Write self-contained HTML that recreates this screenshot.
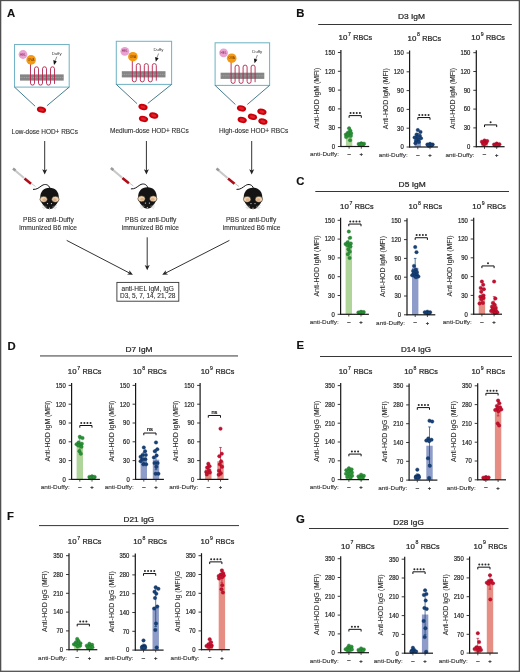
<!DOCTYPE html>
<html><head><meta charset="utf-8"><style>
html,body{margin:0;padding:0;background:#fff;}
svg{display:block;will-change:transform;filter:blur(0.3px);}
text{font-family:"Liberation Sans", sans-serif;}
</style></head><body>
<svg width="520" height="672" viewBox="0 0 520 672" font-family='"Liberation Sans", sans-serif'>
<rect x="0" y="0" width="520" height="672" fill="#fff"/>
<text x="296.30" y="16.70" font-size="11.3" text-anchor="start" fill="#111" font-weight="bold" stroke="#111" stroke-width="0.15">B</text>
<text x="398.00" y="19.20" font-size="8.1" text-anchor="start" fill="#242424" font-weight="normal" stroke="#242424" stroke-width="0.24" textLength="27.0" lengthAdjust="spacingAndGlyphs">D3 IgM</text>
<line x1="318.20" y1="24.50" x2="511.80" y2="24.50" stroke="#363636" stroke-width="1.0"/>
<text x="338.50" y="40.40" font-size="8.0" text-anchor="start" fill="#242424" font-weight="normal" stroke="#242424" stroke-width="0.24" textLength="8.8" lengthAdjust="spacingAndGlyphs">10</text>
<text x="347.90" y="36.30" font-size="6.0" text-anchor="start" fill="#242424" font-weight="normal" stroke="#242424" stroke-width="0.18" textLength="2.9" lengthAdjust="spacingAndGlyphs">7</text>
<text x="353.30" y="40.40" font-size="7.9" text-anchor="start" fill="#242424" font-weight="normal" stroke="#242424" stroke-width="0.24" textLength="18.9" lengthAdjust="spacingAndGlyphs">RBCs</text>
<text x="407.50" y="40.50" font-size="8.0" text-anchor="start" fill="#242424" font-weight="normal" stroke="#242424" stroke-width="0.24" textLength="8.8" lengthAdjust="spacingAndGlyphs">10</text>
<text x="416.90" y="36.40" font-size="6.0" text-anchor="start" fill="#242424" font-weight="normal" stroke="#242424" stroke-width="0.18" textLength="2.9" lengthAdjust="spacingAndGlyphs">8</text>
<text x="422.30" y="40.50" font-size="7.9" text-anchor="start" fill="#242424" font-weight="normal" stroke="#242424" stroke-width="0.24" textLength="18.9" lengthAdjust="spacingAndGlyphs">RBCs</text>
<text x="471.30" y="40.40" font-size="8.0" text-anchor="start" fill="#242424" font-weight="normal" stroke="#242424" stroke-width="0.24" textLength="8.8" lengthAdjust="spacingAndGlyphs">10</text>
<text x="480.70" y="36.30" font-size="6.0" text-anchor="start" fill="#242424" font-weight="normal" stroke="#242424" stroke-width="0.18" textLength="2.9" lengthAdjust="spacingAndGlyphs">9</text>
<text x="486.10" y="40.40" font-size="7.9" text-anchor="start" fill="#242424" font-weight="normal" stroke="#242424" stroke-width="0.24" textLength="18.9" lengthAdjust="spacingAndGlyphs">RBCs</text>
<rect x="345.90" y="133.97" width="6.4" height="12.53" fill="#afd59b"/>
<rect x="358.10" y="144.18" width="6.4" height="2.32" fill="#afd59b"/>
<line x1="349.10" y1="130.83" x2="349.10" y2="137.10" stroke="#2a9236" stroke-width="0.7"/>
<line x1="347.80" y1="130.83" x2="350.40" y2="130.83" stroke="#2a9236" stroke-width="0.7"/>
<line x1="347.80" y1="137.10" x2="350.40" y2="137.10" stroke="#2a9236" stroke-width="0.7"/>
<line x1="361.30" y1="143.55" x2="361.30" y2="144.81" stroke="#2a9236" stroke-width="0.7"/>
<line x1="360.00" y1="143.55" x2="362.60" y2="143.55" stroke="#2a9236" stroke-width="0.7"/>
<line x1="360.00" y1="144.81" x2="362.60" y2="144.81" stroke="#2a9236" stroke-width="0.7"/>
<circle cx="349.10" cy="128.33" r="1.75" fill="#2a9236" stroke="#1d6e28" stroke-width="0.35"/>
<circle cx="350.40" cy="130.83" r="1.75" fill="#2a9236" stroke="#1d6e28" stroke-width="0.35"/>
<circle cx="347.90" cy="132.71" r="1.75" fill="#2a9236" stroke="#1d6e28" stroke-width="0.35"/>
<circle cx="351.10" cy="133.34" r="1.75" fill="#2a9236" stroke="#1d6e28" stroke-width="0.35"/>
<circle cx="348.40" cy="133.97" r="1.75" fill="#2a9236" stroke="#1d6e28" stroke-width="0.35"/>
<circle cx="345.90" cy="134.59" r="1.75" fill="#2a9236" stroke="#1d6e28" stroke-width="0.35"/>
<circle cx="347.60" cy="135.22" r="1.75" fill="#2a9236" stroke="#1d6e28" stroke-width="0.35"/>
<circle cx="350.80" cy="135.85" r="1.75" fill="#2a9236" stroke="#1d6e28" stroke-width="0.35"/>
<circle cx="346.10" cy="137.10" r="1.75" fill="#2a9236" stroke="#1d6e28" stroke-width="0.35"/>
<circle cx="350.10" cy="140.23" r="1.75" fill="#2a9236" stroke="#1d6e28" stroke-width="0.35"/>
<circle cx="361.30" cy="143.37" r="1.75" fill="#2a9236" stroke="#1d6e28" stroke-width="0.35"/>
<circle cx="364.00" cy="143.68" r="1.75" fill="#2a9236" stroke="#1d6e28" stroke-width="0.35"/>
<circle cx="358.70" cy="143.99" r="1.75" fill="#2a9236" stroke="#1d6e28" stroke-width="0.35"/>
<circle cx="361.90" cy="143.99" r="1.75" fill="#2a9236" stroke="#1d6e28" stroke-width="0.35"/>
<circle cx="360.60" cy="144.31" r="1.75" fill="#2a9236" stroke="#1d6e28" stroke-width="0.35"/>
<circle cx="362.90" cy="144.62" r="1.75" fill="#2a9236" stroke="#1d6e28" stroke-width="0.35"/>
<circle cx="359.80" cy="144.62" r="1.75" fill="#2a9236" stroke="#1d6e28" stroke-width="0.35"/>
<circle cx="361.60" cy="144.93" r="1.75" fill="#2a9236" stroke="#1d6e28" stroke-width="0.35"/>
<line x1="340.90" y1="147.00" x2="340.90" y2="50.00" stroke="#161616" stroke-width="1.2"/>
<line x1="340.40" y1="146.50" x2="369.20" y2="146.50" stroke="#161616" stroke-width="1.2"/>
<line x1="349.10" y1="146.50" x2="349.10" y2="148.70" stroke="#222" stroke-width="0.8"/>
<line x1="361.30" y1="146.50" x2="361.30" y2="148.70" stroke="#222" stroke-width="0.8"/>
<line x1="337.90" y1="146.50" x2="340.90" y2="146.50" stroke="#222" stroke-width="0.9"/>
<text x="335.00" y="148.85" font-size="6.6" text-anchor="end" fill="#262626" font-weight="normal" stroke="#262626" stroke-width="0.2" textLength="3.3" lengthAdjust="spacingAndGlyphs">0</text>
<line x1="337.90" y1="127.70" x2="340.90" y2="127.70" stroke="#222" stroke-width="0.9"/>
<text x="335.00" y="130.05" font-size="6.6" text-anchor="end" fill="#262626" font-weight="normal" stroke="#262626" stroke-width="0.2" textLength="6.6" lengthAdjust="spacingAndGlyphs">30</text>
<line x1="337.90" y1="108.90" x2="340.90" y2="108.90" stroke="#222" stroke-width="0.9"/>
<text x="335.00" y="111.25" font-size="6.6" text-anchor="end" fill="#262626" font-weight="normal" stroke="#262626" stroke-width="0.2" textLength="6.6" lengthAdjust="spacingAndGlyphs">60</text>
<line x1="337.90" y1="90.10" x2="340.90" y2="90.10" stroke="#222" stroke-width="0.9"/>
<text x="335.00" y="92.45" font-size="6.6" text-anchor="end" fill="#262626" font-weight="normal" stroke="#262626" stroke-width="0.2" textLength="6.6" lengthAdjust="spacingAndGlyphs">90</text>
<line x1="337.90" y1="71.30" x2="340.90" y2="71.30" stroke="#222" stroke-width="0.9"/>
<text x="335.00" y="73.65" font-size="6.6" text-anchor="end" fill="#262626" font-weight="normal" stroke="#262626" stroke-width="0.2" textLength="9.9" lengthAdjust="spacingAndGlyphs">120</text>
<line x1="337.90" y1="52.50" x2="340.90" y2="52.50" stroke="#222" stroke-width="0.9"/>
<text x="335.00" y="54.85" font-size="6.6" text-anchor="end" fill="#262626" font-weight="normal" stroke="#262626" stroke-width="0.2" textLength="9.9" lengthAdjust="spacingAndGlyphs">150</text>
<path d="M349.10,117.81V115.61H361.30V117.81" fill="none" stroke="#111" stroke-width="1.0"/>
<circle cx="350.55" cy="113.01" r="1.0" fill="#2a2a2a"/>
<circle cx="353.65" cy="113.01" r="1.0" fill="#2a2a2a"/>
<circle cx="356.75" cy="113.01" r="1.0" fill="#2a2a2a"/>
<circle cx="359.85" cy="113.01" r="1.0" fill="#2a2a2a"/>
<text transform="translate(319.20,98.20) rotate(-90)" x="0" y="0" font-size="7.4" text-anchor="middle" fill="#2e2e2e" stroke="#2e2e2e" stroke-width="0.1" textLength="61" lengthAdjust="spacingAndGlyphs">Anti-HOD IgM (MFI)</text>
<text x="339.00" y="156.30" font-size="6.1" text-anchor="end" fill="#333" font-weight="normal" stroke="#333" stroke-width="0.12" textLength="29.0" lengthAdjust="spacingAndGlyphs">anti-Duffy:</text>
<text x="349.10" y="156.10" font-size="5.9" text-anchor="middle" fill="#242424" font-weight="normal" stroke="#242424" stroke-width="0.24">–</text>
<text x="361.30" y="156.30" font-size="5.9" text-anchor="middle" fill="#242424" font-weight="normal" stroke="#242424" stroke-width="0.24">+</text>
<rect x="414.60" y="137.29" width="6.4" height="9.71" fill="#8d9cc8"/>
<rect x="426.80" y="144.81" width="6.4" height="2.19" fill="#8d9cc8"/>
<line x1="417.80" y1="133.53" x2="417.80" y2="141.05" stroke="#16427a" stroke-width="0.7"/>
<line x1="416.50" y1="133.53" x2="419.10" y2="133.53" stroke="#16427a" stroke-width="0.7"/>
<line x1="416.50" y1="141.05" x2="419.10" y2="141.05" stroke="#16427a" stroke-width="0.7"/>
<line x1="430.00" y1="144.18" x2="430.00" y2="145.43" stroke="#16427a" stroke-width="0.7"/>
<line x1="428.70" y1="144.18" x2="431.30" y2="144.18" stroke="#16427a" stroke-width="0.7"/>
<line x1="428.70" y1="145.43" x2="431.30" y2="145.43" stroke="#16427a" stroke-width="0.7"/>
<circle cx="417.80" cy="130.08" r="1.75" fill="#16427a" stroke="#0d2a50" stroke-width="0.35"/>
<circle cx="420.50" cy="131.96" r="1.75" fill="#16427a" stroke="#0d2a50" stroke-width="0.35"/>
<circle cx="416.60" cy="134.47" r="1.75" fill="#16427a" stroke="#0d2a50" stroke-width="0.35"/>
<circle cx="419.80" cy="135.72" r="1.75" fill="#16427a" stroke="#0d2a50" stroke-width="0.35"/>
<circle cx="417.10" cy="136.97" r="1.75" fill="#16427a" stroke="#0d2a50" stroke-width="0.35"/>
<circle cx="414.60" cy="137.60" r="1.75" fill="#16427a" stroke="#0d2a50" stroke-width="0.35"/>
<circle cx="421.00" cy="138.23" r="1.75" fill="#16427a" stroke="#0d2a50" stroke-width="0.35"/>
<circle cx="418.10" cy="139.48" r="1.75" fill="#16427a" stroke="#0d2a50" stroke-width="0.35"/>
<circle cx="416.00" cy="140.73" r="1.75" fill="#16427a" stroke="#0d2a50" stroke-width="0.35"/>
<circle cx="418.80" cy="141.99" r="1.75" fill="#16427a" stroke="#0d2a50" stroke-width="0.35"/>
<circle cx="415.40" cy="143.24" r="1.75" fill="#16427a" stroke="#0d2a50" stroke-width="0.35"/>
<circle cx="430.00" cy="143.87" r="1.75" fill="#16427a" stroke="#0d2a50" stroke-width="0.35"/>
<circle cx="432.70" cy="144.49" r="1.75" fill="#16427a" stroke="#0d2a50" stroke-width="0.35"/>
<circle cx="427.40" cy="144.49" r="1.75" fill="#16427a" stroke="#0d2a50" stroke-width="0.35"/>
<circle cx="430.60" cy="145.12" r="1.75" fill="#16427a" stroke="#0d2a50" stroke-width="0.35"/>
<circle cx="429.30" cy="145.12" r="1.75" fill="#16427a" stroke="#0d2a50" stroke-width="0.35"/>
<circle cx="431.60" cy="145.43" r="1.75" fill="#16427a" stroke="#0d2a50" stroke-width="0.35"/>
<circle cx="428.50" cy="145.75" r="1.75" fill="#16427a" stroke="#0d2a50" stroke-width="0.35"/>
<line x1="409.60" y1="147.50" x2="409.60" y2="50.50" stroke="#161616" stroke-width="1.2"/>
<line x1="409.10" y1="147.00" x2="437.90" y2="147.00" stroke="#161616" stroke-width="1.2"/>
<line x1="417.80" y1="147.00" x2="417.80" y2="149.20" stroke="#222" stroke-width="0.8"/>
<line x1="430.00" y1="147.00" x2="430.00" y2="149.20" stroke="#222" stroke-width="0.8"/>
<line x1="406.60" y1="147.00" x2="409.60" y2="147.00" stroke="#222" stroke-width="0.9"/>
<text x="403.70" y="149.35" font-size="6.6" text-anchor="end" fill="#262626" font-weight="normal" stroke="#262626" stroke-width="0.2" textLength="3.3" lengthAdjust="spacingAndGlyphs">0</text>
<line x1="406.60" y1="128.20" x2="409.60" y2="128.20" stroke="#222" stroke-width="0.9"/>
<text x="403.70" y="130.55" font-size="6.6" text-anchor="end" fill="#262626" font-weight="normal" stroke="#262626" stroke-width="0.2" textLength="6.6" lengthAdjust="spacingAndGlyphs">30</text>
<line x1="406.60" y1="109.40" x2="409.60" y2="109.40" stroke="#222" stroke-width="0.9"/>
<text x="403.70" y="111.75" font-size="6.6" text-anchor="end" fill="#262626" font-weight="normal" stroke="#262626" stroke-width="0.2" textLength="6.6" lengthAdjust="spacingAndGlyphs">60</text>
<line x1="406.60" y1="90.60" x2="409.60" y2="90.60" stroke="#222" stroke-width="0.9"/>
<text x="403.70" y="92.95" font-size="6.6" text-anchor="end" fill="#262626" font-weight="normal" stroke="#262626" stroke-width="0.2" textLength="6.6" lengthAdjust="spacingAndGlyphs">90</text>
<line x1="406.60" y1="71.80" x2="409.60" y2="71.80" stroke="#222" stroke-width="0.9"/>
<text x="403.70" y="74.15" font-size="6.6" text-anchor="end" fill="#262626" font-weight="normal" stroke="#262626" stroke-width="0.2" textLength="9.9" lengthAdjust="spacingAndGlyphs">120</text>
<line x1="406.60" y1="53.00" x2="409.60" y2="53.00" stroke="#222" stroke-width="0.9"/>
<text x="403.70" y="55.35" font-size="6.6" text-anchor="end" fill="#262626" font-weight="normal" stroke="#262626" stroke-width="0.2" textLength="9.9" lengthAdjust="spacingAndGlyphs">150</text>
<path d="M417.80,119.75V117.55H430.00V119.75" fill="none" stroke="#111" stroke-width="1.0"/>
<circle cx="419.25" cy="114.95" r="1.0" fill="#2a2a2a"/>
<circle cx="422.35" cy="114.95" r="1.0" fill="#2a2a2a"/>
<circle cx="425.45" cy="114.95" r="1.0" fill="#2a2a2a"/>
<circle cx="428.55" cy="114.95" r="1.0" fill="#2a2a2a"/>
<text transform="translate(387.90,98.70) rotate(-90)" x="0" y="0" font-size="7.4" text-anchor="middle" fill="#2e2e2e" stroke="#2e2e2e" stroke-width="0.1" textLength="61" lengthAdjust="spacingAndGlyphs">Anti-HOD IgM (MFI)</text>
<text x="407.70" y="156.80" font-size="6.1" text-anchor="end" fill="#333" font-weight="normal" stroke="#333" stroke-width="0.12" textLength="29.0" lengthAdjust="spacingAndGlyphs">anti-Duffy:</text>
<text x="417.80" y="156.60" font-size="5.9" text-anchor="middle" fill="#242424" font-weight="normal" stroke="#242424" stroke-width="0.24">–</text>
<text x="430.00" y="156.80" font-size="5.9" text-anchor="middle" fill="#242424" font-weight="normal" stroke="#242424" stroke-width="0.24">+</text>
<rect x="481.30" y="142.31" width="6.4" height="4.39" fill="#e68e84"/>
<rect x="493.50" y="144.69" width="6.4" height="2.01" fill="#e68e84"/>
<line x1="484.50" y1="141.06" x2="484.50" y2="143.57" stroke="#c70f2e" stroke-width="0.7"/>
<line x1="483.20" y1="141.06" x2="485.80" y2="141.06" stroke="#c70f2e" stroke-width="0.7"/>
<line x1="483.20" y1="143.57" x2="485.80" y2="143.57" stroke="#c70f2e" stroke-width="0.7"/>
<line x1="496.70" y1="144.07" x2="496.70" y2="145.32" stroke="#c70f2e" stroke-width="0.7"/>
<line x1="495.40" y1="144.07" x2="498.00" y2="144.07" stroke="#c70f2e" stroke-width="0.7"/>
<line x1="495.40" y1="145.32" x2="498.00" y2="145.32" stroke="#c70f2e" stroke-width="0.7"/>
<circle cx="484.50" cy="140.43" r="1.75" fill="#c70f2e" stroke="#9a0a22" stroke-width="0.35"/>
<circle cx="487.20" cy="141.06" r="1.75" fill="#c70f2e" stroke="#9a0a22" stroke-width="0.35"/>
<circle cx="481.90" cy="141.69" r="1.75" fill="#c70f2e" stroke="#9a0a22" stroke-width="0.35"/>
<circle cx="485.10" cy="142.31" r="1.75" fill="#c70f2e" stroke="#9a0a22" stroke-width="0.35"/>
<circle cx="483.80" cy="142.31" r="1.75" fill="#c70f2e" stroke="#9a0a22" stroke-width="0.35"/>
<circle cx="486.10" cy="142.94" r="1.75" fill="#c70f2e" stroke="#9a0a22" stroke-width="0.35"/>
<circle cx="483.00" cy="143.57" r="1.75" fill="#c70f2e" stroke="#9a0a22" stroke-width="0.35"/>
<circle cx="484.80" cy="143.57" r="1.75" fill="#c70f2e" stroke="#9a0a22" stroke-width="0.35"/>
<circle cx="484.10" cy="144.19" r="1.75" fill="#c70f2e" stroke="#9a0a22" stroke-width="0.35"/>
<circle cx="496.70" cy="143.57" r="1.75" fill="#c70f2e" stroke="#9a0a22" stroke-width="0.35"/>
<circle cx="499.40" cy="144.19" r="1.75" fill="#c70f2e" stroke="#9a0a22" stroke-width="0.35"/>
<circle cx="494.10" cy="144.51" r="1.75" fill="#c70f2e" stroke="#9a0a22" stroke-width="0.35"/>
<circle cx="497.30" cy="144.82" r="1.75" fill="#c70f2e" stroke="#9a0a22" stroke-width="0.35"/>
<circle cx="496.00" cy="144.82" r="1.75" fill="#c70f2e" stroke="#9a0a22" stroke-width="0.35"/>
<circle cx="498.30" cy="145.13" r="1.75" fill="#c70f2e" stroke="#9a0a22" stroke-width="0.35"/>
<circle cx="495.20" cy="145.45" r="1.75" fill="#c70f2e" stroke="#9a0a22" stroke-width="0.35"/>
<circle cx="497.00" cy="145.45" r="1.75" fill="#c70f2e" stroke="#9a0a22" stroke-width="0.35"/>
<line x1="476.30" y1="147.20" x2="476.30" y2="50.20" stroke="#161616" stroke-width="1.2"/>
<line x1="475.80" y1="146.70" x2="504.60" y2="146.70" stroke="#161616" stroke-width="1.2"/>
<line x1="484.50" y1="146.70" x2="484.50" y2="148.90" stroke="#222" stroke-width="0.8"/>
<line x1="496.70" y1="146.70" x2="496.70" y2="148.90" stroke="#222" stroke-width="0.8"/>
<line x1="473.30" y1="146.70" x2="476.30" y2="146.70" stroke="#222" stroke-width="0.9"/>
<text x="470.40" y="149.05" font-size="6.6" text-anchor="end" fill="#262626" font-weight="normal" stroke="#262626" stroke-width="0.2" textLength="3.3" lengthAdjust="spacingAndGlyphs">0</text>
<line x1="473.30" y1="127.90" x2="476.30" y2="127.90" stroke="#222" stroke-width="0.9"/>
<text x="470.40" y="130.25" font-size="6.6" text-anchor="end" fill="#262626" font-weight="normal" stroke="#262626" stroke-width="0.2" textLength="6.6" lengthAdjust="spacingAndGlyphs">30</text>
<line x1="473.30" y1="109.10" x2="476.30" y2="109.10" stroke="#222" stroke-width="0.9"/>
<text x="470.40" y="111.45" font-size="6.6" text-anchor="end" fill="#262626" font-weight="normal" stroke="#262626" stroke-width="0.2" textLength="6.6" lengthAdjust="spacingAndGlyphs">60</text>
<line x1="473.30" y1="90.30" x2="476.30" y2="90.30" stroke="#222" stroke-width="0.9"/>
<text x="470.40" y="92.65" font-size="6.6" text-anchor="end" fill="#262626" font-weight="normal" stroke="#262626" stroke-width="0.2" textLength="6.6" lengthAdjust="spacingAndGlyphs">90</text>
<line x1="473.30" y1="71.50" x2="476.30" y2="71.50" stroke="#222" stroke-width="0.9"/>
<text x="470.40" y="73.85" font-size="6.6" text-anchor="end" fill="#262626" font-weight="normal" stroke="#262626" stroke-width="0.2" textLength="9.9" lengthAdjust="spacingAndGlyphs">120</text>
<line x1="473.30" y1="52.70" x2="476.30" y2="52.70" stroke="#222" stroke-width="0.9"/>
<text x="470.40" y="55.05" font-size="6.6" text-anchor="end" fill="#262626" font-weight="normal" stroke="#262626" stroke-width="0.2" textLength="9.9" lengthAdjust="spacingAndGlyphs">150</text>
<path d="M484.50,127.09V124.89H496.70V127.09" fill="none" stroke="#111" stroke-width="1.0"/>
<circle cx="490.60" cy="122.29" r="1.0" fill="#2a2a2a"/>
<text transform="translate(454.60,98.40) rotate(-90)" x="0" y="0" font-size="7.4" text-anchor="middle" fill="#2e2e2e" stroke="#2e2e2e" stroke-width="0.1" textLength="61" lengthAdjust="spacingAndGlyphs">Anti-HOD IgM (MFI)</text>
<text x="474.40" y="156.50" font-size="6.1" text-anchor="end" fill="#333" font-weight="normal" stroke="#333" stroke-width="0.12" textLength="29.0" lengthAdjust="spacingAndGlyphs">anti-Duffy:</text>
<text x="484.50" y="156.30" font-size="5.9" text-anchor="middle" fill="#242424" font-weight="normal" stroke="#242424" stroke-width="0.24">–</text>
<text x="496.70" y="156.50" font-size="5.9" text-anchor="middle" fill="#242424" font-weight="normal" stroke="#242424" stroke-width="0.24">+</text>
<text x="296.20" y="185.00" font-size="11.3" text-anchor="start" fill="#111" font-weight="bold" stroke="#111" stroke-width="0.15">C</text>
<text x="398.60" y="187.10" font-size="8.1" text-anchor="start" fill="#242424" font-weight="normal" stroke="#242424" stroke-width="0.24" textLength="27.1" lengthAdjust="spacingAndGlyphs">D5 IgM</text>
<line x1="315.30" y1="191.50" x2="509.00" y2="191.50" stroke="#363636" stroke-width="1.0"/>
<text x="340.00" y="209.10" font-size="8.0" text-anchor="start" fill="#242424" font-weight="normal" stroke="#242424" stroke-width="0.24" textLength="8.8" lengthAdjust="spacingAndGlyphs">10</text>
<text x="349.40" y="205.00" font-size="6.0" text-anchor="start" fill="#242424" font-weight="normal" stroke="#242424" stroke-width="0.18" textLength="2.9" lengthAdjust="spacingAndGlyphs">7</text>
<text x="354.80" y="209.10" font-size="7.9" text-anchor="start" fill="#242424" font-weight="normal" stroke="#242424" stroke-width="0.24" textLength="18.9" lengthAdjust="spacingAndGlyphs">RBCs</text>
<text x="408.50" y="209.10" font-size="8.0" text-anchor="start" fill="#242424" font-weight="normal" stroke="#242424" stroke-width="0.24" textLength="8.8" lengthAdjust="spacingAndGlyphs">10</text>
<text x="417.90" y="205.00" font-size="6.0" text-anchor="start" fill="#242424" font-weight="normal" stroke="#242424" stroke-width="0.18" textLength="2.9" lengthAdjust="spacingAndGlyphs">8</text>
<text x="423.30" y="209.10" font-size="7.9" text-anchor="start" fill="#242424" font-weight="normal" stroke="#242424" stroke-width="0.24" textLength="18.9" lengthAdjust="spacingAndGlyphs">RBCs</text>
<text x="472.30" y="209.10" font-size="8.0" text-anchor="start" fill="#242424" font-weight="normal" stroke="#242424" stroke-width="0.24" textLength="8.8" lengthAdjust="spacingAndGlyphs">10</text>
<text x="481.70" y="205.00" font-size="6.0" text-anchor="start" fill="#242424" font-weight="normal" stroke="#242424" stroke-width="0.18" textLength="2.9" lengthAdjust="spacingAndGlyphs">9</text>
<text x="487.10" y="209.10" font-size="7.9" text-anchor="start" fill="#242424" font-weight="normal" stroke="#242424" stroke-width="0.24" textLength="18.9" lengthAdjust="spacingAndGlyphs">RBCs</text>
<rect x="345.60" y="244.11" width="6.4" height="70.19" fill="#afd59b"/>
<rect x="357.80" y="312.42" width="6.4" height="1.88" fill="#afd59b"/>
<line x1="348.80" y1="237.85" x2="348.80" y2="250.38" stroke="#2a9236" stroke-width="0.7"/>
<line x1="347.50" y1="237.85" x2="350.10" y2="237.85" stroke="#2a9236" stroke-width="0.7"/>
<line x1="347.50" y1="250.38" x2="350.10" y2="250.38" stroke="#2a9236" stroke-width="0.7"/>
<line x1="361.00" y1="311.79" x2="361.00" y2="313.05" stroke="#2a9236" stroke-width="0.7"/>
<line x1="359.70" y1="311.79" x2="362.30" y2="311.79" stroke="#2a9236" stroke-width="0.7"/>
<line x1="359.70" y1="313.05" x2="362.30" y2="313.05" stroke="#2a9236" stroke-width="0.7"/>
<circle cx="348.80" cy="231.58" r="1.75" fill="#2a9236" stroke="#1d6e28" stroke-width="0.35"/>
<circle cx="350.10" cy="237.85" r="1.75" fill="#2a9236" stroke="#1d6e28" stroke-width="0.35"/>
<circle cx="347.60" cy="242.23" r="1.75" fill="#2a9236" stroke="#1d6e28" stroke-width="0.35"/>
<circle cx="350.80" cy="243.49" r="1.75" fill="#2a9236" stroke="#1d6e28" stroke-width="0.35"/>
<circle cx="345.60" cy="244.11" r="1.75" fill="#2a9236" stroke="#1d6e28" stroke-width="0.35"/>
<circle cx="348.40" cy="244.74" r="1.75" fill="#2a9236" stroke="#1d6e28" stroke-width="0.35"/>
<circle cx="347.30" cy="245.37" r="1.75" fill="#2a9236" stroke="#1d6e28" stroke-width="0.35"/>
<circle cx="350.50" cy="246.62" r="1.75" fill="#2a9236" stroke="#1d6e28" stroke-width="0.35"/>
<circle cx="348.40" cy="249.13" r="1.75" fill="#2a9236" stroke="#1d6e28" stroke-width="0.35"/>
<circle cx="349.80" cy="251.63" r="1.75" fill="#2a9236" stroke="#1d6e28" stroke-width="0.35"/>
<circle cx="347.80" cy="254.14" r="1.75" fill="#2a9236" stroke="#1d6e28" stroke-width="0.35"/>
<circle cx="349.60" cy="257.90" r="1.75" fill="#2a9236" stroke="#1d6e28" stroke-width="0.35"/>
<circle cx="361.00" cy="311.79" r="1.75" fill="#2a9236" stroke="#1d6e28" stroke-width="0.35"/>
<circle cx="363.70" cy="312.11" r="1.75" fill="#2a9236" stroke="#1d6e28" stroke-width="0.35"/>
<circle cx="358.40" cy="312.42" r="1.75" fill="#2a9236" stroke="#1d6e28" stroke-width="0.35"/>
<circle cx="361.60" cy="312.42" r="1.75" fill="#2a9236" stroke="#1d6e28" stroke-width="0.35"/>
<circle cx="360.30" cy="312.73" r="1.75" fill="#2a9236" stroke="#1d6e28" stroke-width="0.35"/>
<circle cx="362.60" cy="313.05" r="1.75" fill="#2a9236" stroke="#1d6e28" stroke-width="0.35"/>
<line x1="340.60" y1="314.80" x2="340.60" y2="217.80" stroke="#161616" stroke-width="1.2"/>
<line x1="340.10" y1="314.30" x2="368.90" y2="314.30" stroke="#161616" stroke-width="1.2"/>
<line x1="348.80" y1="314.30" x2="348.80" y2="316.50" stroke="#222" stroke-width="0.8"/>
<line x1="361.00" y1="314.30" x2="361.00" y2="316.50" stroke="#222" stroke-width="0.8"/>
<line x1="337.60" y1="314.30" x2="340.60" y2="314.30" stroke="#222" stroke-width="0.9"/>
<text x="334.70" y="316.65" font-size="6.6" text-anchor="end" fill="#262626" font-weight="normal" stroke="#262626" stroke-width="0.2" textLength="3.3" lengthAdjust="spacingAndGlyphs">0</text>
<line x1="337.60" y1="295.50" x2="340.60" y2="295.50" stroke="#222" stroke-width="0.9"/>
<text x="334.70" y="297.85" font-size="6.6" text-anchor="end" fill="#262626" font-weight="normal" stroke="#262626" stroke-width="0.2" textLength="6.6" lengthAdjust="spacingAndGlyphs">30</text>
<line x1="337.60" y1="276.70" x2="340.60" y2="276.70" stroke="#222" stroke-width="0.9"/>
<text x="334.70" y="279.05" font-size="6.6" text-anchor="end" fill="#262626" font-weight="normal" stroke="#262626" stroke-width="0.2" textLength="6.6" lengthAdjust="spacingAndGlyphs">60</text>
<line x1="337.60" y1="257.90" x2="340.60" y2="257.90" stroke="#222" stroke-width="0.9"/>
<text x="334.70" y="260.25" font-size="6.6" text-anchor="end" fill="#262626" font-weight="normal" stroke="#262626" stroke-width="0.2" textLength="6.6" lengthAdjust="spacingAndGlyphs">90</text>
<line x1="337.60" y1="239.10" x2="340.60" y2="239.10" stroke="#222" stroke-width="0.9"/>
<text x="334.70" y="241.45" font-size="6.6" text-anchor="end" fill="#262626" font-weight="normal" stroke="#262626" stroke-width="0.2" textLength="9.9" lengthAdjust="spacingAndGlyphs">120</text>
<line x1="337.60" y1="220.30" x2="340.60" y2="220.30" stroke="#222" stroke-width="0.9"/>
<text x="334.70" y="222.65" font-size="6.6" text-anchor="end" fill="#262626" font-weight="normal" stroke="#262626" stroke-width="0.2" textLength="9.9" lengthAdjust="spacingAndGlyphs">150</text>
<path d="M348.80,226.26V224.06H361.00V226.26" fill="none" stroke="#111" stroke-width="1.0"/>
<circle cx="350.25" cy="221.46" r="1.0" fill="#2a2a2a"/>
<circle cx="353.35" cy="221.46" r="1.0" fill="#2a2a2a"/>
<circle cx="356.45" cy="221.46" r="1.0" fill="#2a2a2a"/>
<circle cx="359.55" cy="221.46" r="1.0" fill="#2a2a2a"/>
<text transform="translate(318.90,266.00) rotate(-90)" x="0" y="0" font-size="7.4" text-anchor="middle" fill="#2e2e2e" stroke="#2e2e2e" stroke-width="0.1" textLength="61" lengthAdjust="spacingAndGlyphs">Anti-HOD IgM (MFI)</text>
<text x="338.70" y="324.10" font-size="6.1" text-anchor="end" fill="#333" font-weight="normal" stroke="#333" stroke-width="0.12" textLength="29.0" lengthAdjust="spacingAndGlyphs">anti-Duffy:</text>
<text x="348.80" y="323.90" font-size="5.9" text-anchor="middle" fill="#242424" font-weight="normal" stroke="#242424" stroke-width="0.24">–</text>
<text x="361.00" y="324.10" font-size="5.9" text-anchor="middle" fill="#242424" font-weight="normal" stroke="#242424" stroke-width="0.24">+</text>
<rect x="412.00" y="267.80" width="6.4" height="47.00" fill="#8d9cc8"/>
<rect x="424.20" y="312.61" width="6.4" height="2.19" fill="#8d9cc8"/>
<line x1="415.20" y1="258.40" x2="415.20" y2="277.20" stroke="#16427a" stroke-width="0.7"/>
<line x1="413.90" y1="258.40" x2="416.50" y2="258.40" stroke="#16427a" stroke-width="0.7"/>
<line x1="413.90" y1="277.20" x2="416.50" y2="277.20" stroke="#16427a" stroke-width="0.7"/>
<line x1="427.40" y1="311.98" x2="427.40" y2="313.23" stroke="#16427a" stroke-width="0.7"/>
<line x1="426.10" y1="311.98" x2="428.70" y2="311.98" stroke="#16427a" stroke-width="0.7"/>
<line x1="426.10" y1="313.23" x2="428.70" y2="313.23" stroke="#16427a" stroke-width="0.7"/>
<circle cx="415.20" cy="247.12" r="1.75" fill="#16427a" stroke="#0d2a50" stroke-width="0.35"/>
<circle cx="416.50" cy="252.13" r="1.75" fill="#16427a" stroke="#0d2a50" stroke-width="0.35"/>
<circle cx="414.00" cy="265.92" r="1.75" fill="#16427a" stroke="#0d2a50" stroke-width="0.35"/>
<circle cx="415.80" cy="269.68" r="1.75" fill="#16427a" stroke="#0d2a50" stroke-width="0.35"/>
<circle cx="413.10" cy="270.93" r="1.75" fill="#16427a" stroke="#0d2a50" stroke-width="0.35"/>
<circle cx="416.80" cy="272.19" r="1.75" fill="#16427a" stroke="#0d2a50" stroke-width="0.35"/>
<circle cx="413.70" cy="273.44" r="1.75" fill="#16427a" stroke="#0d2a50" stroke-width="0.35"/>
<circle cx="416.90" cy="274.69" r="1.75" fill="#16427a" stroke="#0d2a50" stroke-width="0.35"/>
<circle cx="412.20" cy="275.32" r="1.75" fill="#16427a" stroke="#0d2a50" stroke-width="0.35"/>
<circle cx="414.80" cy="275.95" r="1.75" fill="#16427a" stroke="#0d2a50" stroke-width="0.35"/>
<circle cx="418.40" cy="276.57" r="1.75" fill="#16427a" stroke="#0d2a50" stroke-width="0.35"/>
<circle cx="416.00" cy="277.20" r="1.75" fill="#16427a" stroke="#0d2a50" stroke-width="0.35"/>
<circle cx="427.40" cy="311.67" r="1.75" fill="#16427a" stroke="#0d2a50" stroke-width="0.35"/>
<circle cx="430.10" cy="312.29" r="1.75" fill="#16427a" stroke="#0d2a50" stroke-width="0.35"/>
<circle cx="424.80" cy="312.29" r="1.75" fill="#16427a" stroke="#0d2a50" stroke-width="0.35"/>
<circle cx="428.00" cy="312.92" r="1.75" fill="#16427a" stroke="#0d2a50" stroke-width="0.35"/>
<circle cx="426.70" cy="312.92" r="1.75" fill="#16427a" stroke="#0d2a50" stroke-width="0.35"/>
<circle cx="429.00" cy="313.23" r="1.75" fill="#16427a" stroke="#0d2a50" stroke-width="0.35"/>
<line x1="407.00" y1="315.30" x2="407.00" y2="218.30" stroke="#161616" stroke-width="1.2"/>
<line x1="406.50" y1="314.80" x2="435.30" y2="314.80" stroke="#161616" stroke-width="1.2"/>
<line x1="415.20" y1="314.80" x2="415.20" y2="317.00" stroke="#222" stroke-width="0.8"/>
<line x1="427.40" y1="314.80" x2="427.40" y2="317.00" stroke="#222" stroke-width="0.8"/>
<line x1="404.00" y1="314.80" x2="407.00" y2="314.80" stroke="#222" stroke-width="0.9"/>
<text x="401.10" y="317.15" font-size="6.6" text-anchor="end" fill="#262626" font-weight="normal" stroke="#262626" stroke-width="0.2" textLength="3.3" lengthAdjust="spacingAndGlyphs">0</text>
<line x1="404.00" y1="296.00" x2="407.00" y2="296.00" stroke="#222" stroke-width="0.9"/>
<text x="401.10" y="298.35" font-size="6.6" text-anchor="end" fill="#262626" font-weight="normal" stroke="#262626" stroke-width="0.2" textLength="6.6" lengthAdjust="spacingAndGlyphs">30</text>
<line x1="404.00" y1="277.20" x2="407.00" y2="277.20" stroke="#222" stroke-width="0.9"/>
<text x="401.10" y="279.55" font-size="6.6" text-anchor="end" fill="#262626" font-weight="normal" stroke="#262626" stroke-width="0.2" textLength="6.6" lengthAdjust="spacingAndGlyphs">60</text>
<line x1="404.00" y1="258.40" x2="407.00" y2="258.40" stroke="#222" stroke-width="0.9"/>
<text x="401.10" y="260.75" font-size="6.6" text-anchor="end" fill="#262626" font-weight="normal" stroke="#262626" stroke-width="0.2" textLength="6.6" lengthAdjust="spacingAndGlyphs">90</text>
<line x1="404.00" y1="239.60" x2="407.00" y2="239.60" stroke="#222" stroke-width="0.9"/>
<text x="401.10" y="241.95" font-size="6.6" text-anchor="end" fill="#262626" font-weight="normal" stroke="#262626" stroke-width="0.2" textLength="9.9" lengthAdjust="spacingAndGlyphs">120</text>
<line x1="404.00" y1="220.80" x2="407.00" y2="220.80" stroke="#222" stroke-width="0.9"/>
<text x="401.10" y="223.15" font-size="6.6" text-anchor="end" fill="#262626" font-weight="normal" stroke="#262626" stroke-width="0.2" textLength="9.9" lengthAdjust="spacingAndGlyphs">150</text>
<path d="M415.20,239.92V237.72H427.40V239.92" fill="none" stroke="#111" stroke-width="1.0"/>
<circle cx="416.65" cy="235.12" r="1.0" fill="#2a2a2a"/>
<circle cx="419.75" cy="235.12" r="1.0" fill="#2a2a2a"/>
<circle cx="422.85" cy="235.12" r="1.0" fill="#2a2a2a"/>
<circle cx="425.95" cy="235.12" r="1.0" fill="#2a2a2a"/>
<text transform="translate(385.30,266.50) rotate(-90)" x="0" y="0" font-size="7.4" text-anchor="middle" fill="#2e2e2e" stroke="#2e2e2e" stroke-width="0.1" textLength="61" lengthAdjust="spacingAndGlyphs">Anti-HOD IgM (MFI)</text>
<text x="405.10" y="324.60" font-size="6.1" text-anchor="end" fill="#333" font-weight="normal" stroke="#333" stroke-width="0.12" textLength="29.0" lengthAdjust="spacingAndGlyphs">anti-Duffy:</text>
<text x="415.20" y="324.40" font-size="5.9" text-anchor="middle" fill="#242424" font-weight="normal" stroke="#242424" stroke-width="0.24">–</text>
<text x="427.40" y="324.60" font-size="5.9" text-anchor="middle" fill="#242424" font-weight="normal" stroke="#242424" stroke-width="0.24">+</text>
<rect x="478.70" y="295.40" width="6.4" height="18.80" fill="#e68e84"/>
<rect x="490.90" y="305.43" width="6.4" height="8.77" fill="#e68e84"/>
<line x1="481.90" y1="288.51" x2="481.90" y2="302.29" stroke="#c70f2e" stroke-width="0.7"/>
<line x1="480.60" y1="288.51" x2="483.20" y2="288.51" stroke="#c70f2e" stroke-width="0.7"/>
<line x1="480.60" y1="302.29" x2="483.20" y2="302.29" stroke="#c70f2e" stroke-width="0.7"/>
<line x1="494.10" y1="296.65" x2="494.10" y2="314.20" stroke="#c70f2e" stroke-width="0.7"/>
<line x1="492.80" y1="296.65" x2="495.40" y2="296.65" stroke="#c70f2e" stroke-width="0.7"/>
<circle cx="481.90" cy="281.61" r="1.75" fill="#c70f2e" stroke="#9a0a22" stroke-width="0.35"/>
<circle cx="483.20" cy="284.75" r="1.75" fill="#c70f2e" stroke="#9a0a22" stroke-width="0.35"/>
<circle cx="480.70" cy="287.88" r="1.75" fill="#c70f2e" stroke="#9a0a22" stroke-width="0.35"/>
<circle cx="483.90" cy="289.13" r="1.75" fill="#c70f2e" stroke="#9a0a22" stroke-width="0.35"/>
<circle cx="481.20" cy="291.64" r="1.75" fill="#c70f2e" stroke="#9a0a22" stroke-width="0.35"/>
<circle cx="483.50" cy="295.40" r="1.75" fill="#c70f2e" stroke="#9a0a22" stroke-width="0.35"/>
<circle cx="480.40" cy="296.65" r="1.75" fill="#c70f2e" stroke="#9a0a22" stroke-width="0.35"/>
<circle cx="483.60" cy="297.91" r="1.75" fill="#c70f2e" stroke="#9a0a22" stroke-width="0.35"/>
<circle cx="481.50" cy="299.16" r="1.75" fill="#c70f2e" stroke="#9a0a22" stroke-width="0.35"/>
<circle cx="482.90" cy="302.92" r="1.75" fill="#c70f2e" stroke="#9a0a22" stroke-width="0.35"/>
<circle cx="479.50" cy="303.55" r="1.75" fill="#c70f2e" stroke="#9a0a22" stroke-width="0.35"/>
<circle cx="494.10" cy="281.61" r="1.75" fill="#c70f2e" stroke="#9a0a22" stroke-width="0.35"/>
<circle cx="495.40" cy="298.53" r="1.75" fill="#c70f2e" stroke="#9a0a22" stroke-width="0.35"/>
<circle cx="492.90" cy="302.92" r="1.75" fill="#c70f2e" stroke="#9a0a22" stroke-width="0.35"/>
<circle cx="494.70" cy="304.80" r="1.75" fill="#c70f2e" stroke="#9a0a22" stroke-width="0.35"/>
<circle cx="492.00" cy="306.68" r="1.75" fill="#c70f2e" stroke="#9a0a22" stroke-width="0.35"/>
<circle cx="495.70" cy="307.93" r="1.75" fill="#c70f2e" stroke="#9a0a22" stroke-width="0.35"/>
<circle cx="492.60" cy="309.19" r="1.75" fill="#c70f2e" stroke="#9a0a22" stroke-width="0.35"/>
<circle cx="495.80" cy="310.44" r="1.75" fill="#c70f2e" stroke="#9a0a22" stroke-width="0.35"/>
<circle cx="491.10" cy="311.07" r="1.75" fill="#c70f2e" stroke="#9a0a22" stroke-width="0.35"/>
<circle cx="493.70" cy="311.69" r="1.75" fill="#c70f2e" stroke="#9a0a22" stroke-width="0.35"/>
<circle cx="497.30" cy="312.32" r="1.75" fill="#c70f2e" stroke="#9a0a22" stroke-width="0.35"/>
<circle cx="494.90" cy="312.95" r="1.75" fill="#c70f2e" stroke="#9a0a22" stroke-width="0.35"/>
<line x1="473.70" y1="314.70" x2="473.70" y2="217.70" stroke="#161616" stroke-width="1.2"/>
<line x1="473.20" y1="314.20" x2="502.00" y2="314.20" stroke="#161616" stroke-width="1.2"/>
<line x1="481.90" y1="314.20" x2="481.90" y2="316.40" stroke="#222" stroke-width="0.8"/>
<line x1="494.10" y1="314.20" x2="494.10" y2="316.40" stroke="#222" stroke-width="0.8"/>
<line x1="470.70" y1="314.20" x2="473.70" y2="314.20" stroke="#222" stroke-width="0.9"/>
<text x="467.80" y="316.55" font-size="6.6" text-anchor="end" fill="#262626" font-weight="normal" stroke="#262626" stroke-width="0.2" textLength="3.3" lengthAdjust="spacingAndGlyphs">0</text>
<line x1="470.70" y1="295.40" x2="473.70" y2="295.40" stroke="#222" stroke-width="0.9"/>
<text x="467.80" y="297.75" font-size="6.6" text-anchor="end" fill="#262626" font-weight="normal" stroke="#262626" stroke-width="0.2" textLength="6.6" lengthAdjust="spacingAndGlyphs">30</text>
<line x1="470.70" y1="276.60" x2="473.70" y2="276.60" stroke="#222" stroke-width="0.9"/>
<text x="467.80" y="278.95" font-size="6.6" text-anchor="end" fill="#262626" font-weight="normal" stroke="#262626" stroke-width="0.2" textLength="6.6" lengthAdjust="spacingAndGlyphs">60</text>
<line x1="470.70" y1="257.80" x2="473.70" y2="257.80" stroke="#222" stroke-width="0.9"/>
<text x="467.80" y="260.15" font-size="6.6" text-anchor="end" fill="#262626" font-weight="normal" stroke="#262626" stroke-width="0.2" textLength="6.6" lengthAdjust="spacingAndGlyphs">90</text>
<line x1="470.70" y1="239.00" x2="473.70" y2="239.00" stroke="#222" stroke-width="0.9"/>
<text x="467.80" y="241.35" font-size="6.6" text-anchor="end" fill="#262626" font-weight="normal" stroke="#262626" stroke-width="0.2" textLength="9.9" lengthAdjust="spacingAndGlyphs">120</text>
<line x1="470.70" y1="220.20" x2="473.70" y2="220.20" stroke="#222" stroke-width="0.9"/>
<text x="467.80" y="222.55" font-size="6.6" text-anchor="end" fill="#262626" font-weight="normal" stroke="#262626" stroke-width="0.2" textLength="9.9" lengthAdjust="spacingAndGlyphs">150</text>
<path d="M481.90,268.15V265.95H494.10V268.15" fill="none" stroke="#111" stroke-width="1.0"/>
<circle cx="488.00" cy="263.35" r="1.0" fill="#2a2a2a"/>
<text transform="translate(452.00,265.90) rotate(-90)" x="0" y="0" font-size="7.4" text-anchor="middle" fill="#2e2e2e" stroke="#2e2e2e" stroke-width="0.1" textLength="61" lengthAdjust="spacingAndGlyphs">Anti-HOD IgM (MFI)</text>
<text x="471.80" y="324.00" font-size="6.1" text-anchor="end" fill="#333" font-weight="normal" stroke="#333" stroke-width="0.12" textLength="29.0" lengthAdjust="spacingAndGlyphs">anti-Duffy:</text>
<text x="481.90" y="323.80" font-size="5.9" text-anchor="middle" fill="#242424" font-weight="normal" stroke="#242424" stroke-width="0.24">–</text>
<text x="494.10" y="324.00" font-size="5.9" text-anchor="middle" fill="#242424" font-weight="normal" stroke="#242424" stroke-width="0.24">+</text>
<text x="7.50" y="349.70" font-size="11.3" text-anchor="start" fill="#111" font-weight="bold" stroke="#111" stroke-width="0.15">D</text>
<text x="125.60" y="352.00" font-size="8.1" text-anchor="start" fill="#242424" font-weight="normal" stroke="#242424" stroke-width="0.24" textLength="26.9" lengthAdjust="spacingAndGlyphs">D7 IgM</text>
<line x1="40.00" y1="355.95" x2="238.00" y2="355.95" stroke="#363636" stroke-width="1.0"/>
<text x="67.80" y="373.70" font-size="8.0" text-anchor="start" fill="#242424" font-weight="normal" stroke="#242424" stroke-width="0.24" textLength="8.8" lengthAdjust="spacingAndGlyphs">10</text>
<text x="77.20" y="369.60" font-size="6.0" text-anchor="start" fill="#242424" font-weight="normal" stroke="#242424" stroke-width="0.18" textLength="2.9" lengthAdjust="spacingAndGlyphs">7</text>
<text x="82.60" y="373.70" font-size="7.9" text-anchor="start" fill="#242424" font-weight="normal" stroke="#242424" stroke-width="0.24" textLength="18.9" lengthAdjust="spacingAndGlyphs">RBCs</text>
<text x="132.90" y="373.70" font-size="8.0" text-anchor="start" fill="#242424" font-weight="normal" stroke="#242424" stroke-width="0.24" textLength="8.8" lengthAdjust="spacingAndGlyphs">10</text>
<text x="142.30" y="369.60" font-size="6.0" text-anchor="start" fill="#242424" font-weight="normal" stroke="#242424" stroke-width="0.18" textLength="2.9" lengthAdjust="spacingAndGlyphs">8</text>
<text x="147.70" y="373.70" font-size="7.9" text-anchor="start" fill="#242424" font-weight="normal" stroke="#242424" stroke-width="0.24" textLength="18.9" lengthAdjust="spacingAndGlyphs">RBCs</text>
<text x="200.70" y="373.70" font-size="8.0" text-anchor="start" fill="#242424" font-weight="normal" stroke="#242424" stroke-width="0.24" textLength="8.8" lengthAdjust="spacingAndGlyphs">10</text>
<text x="210.10" y="369.60" font-size="6.0" text-anchor="start" fill="#242424" font-weight="normal" stroke="#242424" stroke-width="0.18" textLength="2.9" lengthAdjust="spacingAndGlyphs">9</text>
<text x="215.50" y="373.70" font-size="7.9" text-anchor="start" fill="#242424" font-weight="normal" stroke="#242424" stroke-width="0.24" textLength="18.9" lengthAdjust="spacingAndGlyphs">RBCs</text>
<rect x="76.60" y="444.31" width="6.4" height="35.09" fill="#afd59b"/>
<rect x="88.80" y="477.21" width="6.4" height="2.19" fill="#afd59b"/>
<line x1="79.80" y1="438.67" x2="79.80" y2="449.95" stroke="#2a9236" stroke-width="0.7"/>
<line x1="78.50" y1="438.67" x2="81.10" y2="438.67" stroke="#2a9236" stroke-width="0.7"/>
<line x1="78.50" y1="449.95" x2="81.10" y2="449.95" stroke="#2a9236" stroke-width="0.7"/>
<line x1="92.00" y1="476.58" x2="92.00" y2="477.83" stroke="#2a9236" stroke-width="0.7"/>
<line x1="90.70" y1="476.58" x2="93.30" y2="476.58" stroke="#2a9236" stroke-width="0.7"/>
<line x1="90.70" y1="477.83" x2="93.30" y2="477.83" stroke="#2a9236" stroke-width="0.7"/>
<circle cx="79.80" cy="436.79" r="1.75" fill="#2a9236" stroke="#1d6e28" stroke-width="0.35"/>
<circle cx="82.50" cy="438.04" r="1.75" fill="#2a9236" stroke="#1d6e28" stroke-width="0.35"/>
<circle cx="78.60" cy="442.43" r="1.75" fill="#2a9236" stroke="#1d6e28" stroke-width="0.35"/>
<circle cx="81.80" cy="443.68" r="1.75" fill="#2a9236" stroke="#1d6e28" stroke-width="0.35"/>
<circle cx="76.60" cy="444.31" r="1.75" fill="#2a9236" stroke="#1d6e28" stroke-width="0.35"/>
<circle cx="79.40" cy="444.93" r="1.75" fill="#2a9236" stroke="#1d6e28" stroke-width="0.35"/>
<circle cx="78.30" cy="445.56" r="1.75" fill="#2a9236" stroke="#1d6e28" stroke-width="0.35"/>
<circle cx="81.50" cy="446.81" r="1.75" fill="#2a9236" stroke="#1d6e28" stroke-width="0.35"/>
<circle cx="79.40" cy="451.20" r="1.75" fill="#2a9236" stroke="#1d6e28" stroke-width="0.35"/>
<circle cx="80.80" cy="453.71" r="1.75" fill="#2a9236" stroke="#1d6e28" stroke-width="0.35"/>
<circle cx="92.00" cy="476.27" r="1.75" fill="#2a9236" stroke="#1d6e28" stroke-width="0.35"/>
<circle cx="94.70" cy="476.89" r="1.75" fill="#2a9236" stroke="#1d6e28" stroke-width="0.35"/>
<circle cx="89.40" cy="476.89" r="1.75" fill="#2a9236" stroke="#1d6e28" stroke-width="0.35"/>
<circle cx="92.60" cy="477.52" r="1.75" fill="#2a9236" stroke="#1d6e28" stroke-width="0.35"/>
<circle cx="91.30" cy="477.52" r="1.75" fill="#2a9236" stroke="#1d6e28" stroke-width="0.35"/>
<circle cx="93.60" cy="477.52" r="1.75" fill="#2a9236" stroke="#1d6e28" stroke-width="0.35"/>
<circle cx="90.50" cy="478.15" r="1.75" fill="#2a9236" stroke="#1d6e28" stroke-width="0.35"/>
<line x1="71.60" y1="479.90" x2="71.60" y2="382.90" stroke="#161616" stroke-width="1.2"/>
<line x1="71.10" y1="479.40" x2="99.90" y2="479.40" stroke="#161616" stroke-width="1.2"/>
<line x1="79.80" y1="479.40" x2="79.80" y2="481.60" stroke="#222" stroke-width="0.8"/>
<line x1="92.00" y1="479.40" x2="92.00" y2="481.60" stroke="#222" stroke-width="0.8"/>
<line x1="68.60" y1="479.40" x2="71.60" y2="479.40" stroke="#222" stroke-width="0.9"/>
<text x="65.70" y="481.75" font-size="6.6" text-anchor="end" fill="#262626" font-weight="normal" stroke="#262626" stroke-width="0.2" textLength="3.3" lengthAdjust="spacingAndGlyphs">0</text>
<line x1="68.60" y1="460.60" x2="71.60" y2="460.60" stroke="#222" stroke-width="0.9"/>
<text x="65.70" y="462.95" font-size="6.6" text-anchor="end" fill="#262626" font-weight="normal" stroke="#262626" stroke-width="0.2" textLength="6.6" lengthAdjust="spacingAndGlyphs">30</text>
<line x1="68.60" y1="441.80" x2="71.60" y2="441.80" stroke="#222" stroke-width="0.9"/>
<text x="65.70" y="444.15" font-size="6.6" text-anchor="end" fill="#262626" font-weight="normal" stroke="#262626" stroke-width="0.2" textLength="6.6" lengthAdjust="spacingAndGlyphs">60</text>
<line x1="68.60" y1="423.00" x2="71.60" y2="423.00" stroke="#222" stroke-width="0.9"/>
<text x="65.70" y="425.35" font-size="6.6" text-anchor="end" fill="#262626" font-weight="normal" stroke="#262626" stroke-width="0.2" textLength="6.6" lengthAdjust="spacingAndGlyphs">90</text>
<line x1="68.60" y1="404.20" x2="71.60" y2="404.20" stroke="#222" stroke-width="0.9"/>
<text x="65.70" y="406.55" font-size="6.6" text-anchor="end" fill="#262626" font-weight="normal" stroke="#262626" stroke-width="0.2" textLength="9.9" lengthAdjust="spacingAndGlyphs">120</text>
<line x1="68.60" y1="385.40" x2="71.60" y2="385.40" stroke="#222" stroke-width="0.9"/>
<text x="65.70" y="387.75" font-size="6.6" text-anchor="end" fill="#262626" font-weight="normal" stroke="#262626" stroke-width="0.2" textLength="9.9" lengthAdjust="spacingAndGlyphs">150</text>
<path d="M79.80,427.71V425.51H92.00V427.71" fill="none" stroke="#111" stroke-width="1.0"/>
<circle cx="81.25" cy="422.91" r="1.0" fill="#2a2a2a"/>
<circle cx="84.35" cy="422.91" r="1.0" fill="#2a2a2a"/>
<circle cx="87.45" cy="422.91" r="1.0" fill="#2a2a2a"/>
<circle cx="90.55" cy="422.91" r="1.0" fill="#2a2a2a"/>
<text transform="translate(49.90,431.10) rotate(-90)" x="0" y="0" font-size="7.4" text-anchor="middle" fill="#2e2e2e" stroke="#2e2e2e" stroke-width="0.1" textLength="61" lengthAdjust="spacingAndGlyphs">Anti-HOD IgM (MFI)</text>
<text x="69.70" y="489.20" font-size="6.1" text-anchor="end" fill="#333" font-weight="normal" stroke="#333" stroke-width="0.12" textLength="29.0" lengthAdjust="spacingAndGlyphs">anti-Duffy:</text>
<text x="79.80" y="489.00" font-size="5.9" text-anchor="middle" fill="#242424" font-weight="normal" stroke="#242424" stroke-width="0.24">–</text>
<text x="92.00" y="489.20" font-size="5.9" text-anchor="middle" fill="#242424" font-weight="normal" stroke="#242424" stroke-width="0.24">+</text>
<rect x="140.60" y="457.47" width="6.4" height="21.93" fill="#8d9cc8"/>
<rect x="152.80" y="459.66" width="6.4" height="19.74" fill="#8d9cc8"/>
<line x1="143.80" y1="452.45" x2="143.80" y2="462.48" stroke="#16427a" stroke-width="0.7"/>
<line x1="142.50" y1="452.45" x2="145.10" y2="452.45" stroke="#16427a" stroke-width="0.7"/>
<line x1="142.50" y1="462.48" x2="145.10" y2="462.48" stroke="#16427a" stroke-width="0.7"/>
<line x1="156.00" y1="449.63" x2="156.00" y2="469.69" stroke="#16427a" stroke-width="0.7"/>
<line x1="154.70" y1="449.63" x2="157.30" y2="449.63" stroke="#16427a" stroke-width="0.7"/>
<line x1="154.70" y1="469.69" x2="157.30" y2="469.69" stroke="#16427a" stroke-width="0.7"/>
<circle cx="143.80" cy="447.44" r="1.75" fill="#16427a" stroke="#0d2a50" stroke-width="0.35"/>
<circle cx="145.10" cy="451.20" r="1.75" fill="#16427a" stroke="#0d2a50" stroke-width="0.35"/>
<circle cx="142.60" cy="454.96" r="1.75" fill="#16427a" stroke="#0d2a50" stroke-width="0.35"/>
<circle cx="145.80" cy="454.96" r="1.75" fill="#16427a" stroke="#0d2a50" stroke-width="0.35"/>
<circle cx="140.60" cy="456.84" r="1.75" fill="#16427a" stroke="#0d2a50" stroke-width="0.35"/>
<circle cx="145.40" cy="459.35" r="1.75" fill="#16427a" stroke="#0d2a50" stroke-width="0.35"/>
<circle cx="142.30" cy="459.35" r="1.75" fill="#16427a" stroke="#0d2a50" stroke-width="0.35"/>
<circle cx="140.60" cy="461.23" r="1.75" fill="#16427a" stroke="#0d2a50" stroke-width="0.35"/>
<circle cx="143.40" cy="464.36" r="1.75" fill="#16427a" stroke="#0d2a50" stroke-width="0.35"/>
<circle cx="146.20" cy="464.36" r="1.75" fill="#16427a" stroke="#0d2a50" stroke-width="0.35"/>
<circle cx="156.00" cy="442.43" r="1.75" fill="#16427a" stroke="#0d2a50" stroke-width="0.35"/>
<circle cx="157.30" cy="449.32" r="1.75" fill="#16427a" stroke="#0d2a50" stroke-width="0.35"/>
<circle cx="154.80" cy="451.20" r="1.75" fill="#16427a" stroke="#0d2a50" stroke-width="0.35"/>
<circle cx="156.60" cy="455.59" r="1.75" fill="#16427a" stroke="#0d2a50" stroke-width="0.35"/>
<circle cx="153.90" cy="457.47" r="1.75" fill="#16427a" stroke="#0d2a50" stroke-width="0.35"/>
<circle cx="157.60" cy="463.11" r="1.75" fill="#16427a" stroke="#0d2a50" stroke-width="0.35"/>
<circle cx="154.50" cy="463.11" r="1.75" fill="#16427a" stroke="#0d2a50" stroke-width="0.35"/>
<circle cx="156.30" cy="466.87" r="1.75" fill="#16427a" stroke="#0d2a50" stroke-width="0.35"/>
<circle cx="155.60" cy="473.76" r="1.75" fill="#16427a" stroke="#0d2a50" stroke-width="0.35"/>
<circle cx="158.40" cy="473.76" r="1.75" fill="#16427a" stroke="#0d2a50" stroke-width="0.35"/>
<line x1="135.60" y1="479.90" x2="135.60" y2="382.90" stroke="#161616" stroke-width="1.2"/>
<line x1="135.10" y1="479.40" x2="163.90" y2="479.40" stroke="#161616" stroke-width="1.2"/>
<line x1="143.80" y1="479.40" x2="143.80" y2="481.60" stroke="#222" stroke-width="0.8"/>
<line x1="156.00" y1="479.40" x2="156.00" y2="481.60" stroke="#222" stroke-width="0.8"/>
<line x1="132.60" y1="479.40" x2="135.60" y2="479.40" stroke="#222" stroke-width="0.9"/>
<text x="129.70" y="481.75" font-size="6.6" text-anchor="end" fill="#262626" font-weight="normal" stroke="#262626" stroke-width="0.2" textLength="3.3" lengthAdjust="spacingAndGlyphs">0</text>
<line x1="132.60" y1="460.60" x2="135.60" y2="460.60" stroke="#222" stroke-width="0.9"/>
<text x="129.70" y="462.95" font-size="6.6" text-anchor="end" fill="#262626" font-weight="normal" stroke="#262626" stroke-width="0.2" textLength="6.6" lengthAdjust="spacingAndGlyphs">30</text>
<line x1="132.60" y1="441.80" x2="135.60" y2="441.80" stroke="#222" stroke-width="0.9"/>
<text x="129.70" y="444.15" font-size="6.6" text-anchor="end" fill="#262626" font-weight="normal" stroke="#262626" stroke-width="0.2" textLength="6.6" lengthAdjust="spacingAndGlyphs">60</text>
<line x1="132.60" y1="423.00" x2="135.60" y2="423.00" stroke="#222" stroke-width="0.9"/>
<text x="129.70" y="425.35" font-size="6.6" text-anchor="end" fill="#262626" font-weight="normal" stroke="#262626" stroke-width="0.2" textLength="6.6" lengthAdjust="spacingAndGlyphs">90</text>
<line x1="132.60" y1="404.20" x2="135.60" y2="404.20" stroke="#222" stroke-width="0.9"/>
<text x="129.70" y="406.55" font-size="6.6" text-anchor="end" fill="#262626" font-weight="normal" stroke="#262626" stroke-width="0.2" textLength="9.9" lengthAdjust="spacingAndGlyphs">120</text>
<line x1="132.60" y1="385.40" x2="135.60" y2="385.40" stroke="#222" stroke-width="0.9"/>
<text x="129.70" y="387.75" font-size="6.6" text-anchor="end" fill="#262626" font-weight="normal" stroke="#262626" stroke-width="0.2" textLength="9.9" lengthAdjust="spacingAndGlyphs">150</text>
<path d="M143.80,435.23V433.03H156.00V435.23" fill="none" stroke="#111" stroke-width="1.0"/>
<text x="149.90" y="431.33" font-size="5.6" text-anchor="middle" fill="#222" font-weight="normal" stroke="#222" stroke-width="0.24">ns</text>
<text transform="translate(113.90,431.10) rotate(-90)" x="0" y="0" font-size="7.4" text-anchor="middle" fill="#2e2e2e" stroke="#2e2e2e" stroke-width="0.1" textLength="61" lengthAdjust="spacingAndGlyphs">Anti-HOD IgM (MFI)</text>
<text x="133.70" y="489.20" font-size="6.1" text-anchor="end" fill="#333" font-weight="normal" stroke="#333" stroke-width="0.12" textLength="29.0" lengthAdjust="spacingAndGlyphs">anti-Duffy:</text>
<text x="143.80" y="489.00" font-size="5.9" text-anchor="middle" fill="#242424" font-weight="normal" stroke="#242424" stroke-width="0.24">–</text>
<text x="156.00" y="489.20" font-size="5.9" text-anchor="middle" fill="#242424" font-weight="normal" stroke="#242424" stroke-width="0.24">+</text>
<rect x="205.10" y="469.37" width="6.4" height="10.03" fill="#e68e84"/>
<rect x="217.30" y="461.23" width="6.4" height="18.17" fill="#e68e84"/>
<line x1="208.30" y1="465.61" x2="208.30" y2="473.13" stroke="#c70f2e" stroke-width="0.7"/>
<line x1="207.00" y1="465.61" x2="209.60" y2="465.61" stroke="#c70f2e" stroke-width="0.7"/>
<line x1="207.00" y1="473.13" x2="209.60" y2="473.13" stroke="#c70f2e" stroke-width="0.7"/>
<line x1="220.50" y1="447.44" x2="220.50" y2="475.01" stroke="#c70f2e" stroke-width="0.7"/>
<line x1="219.20" y1="447.44" x2="221.80" y2="447.44" stroke="#c70f2e" stroke-width="0.7"/>
<line x1="219.20" y1="475.01" x2="221.80" y2="475.01" stroke="#c70f2e" stroke-width="0.7"/>
<circle cx="208.30" cy="463.73" r="1.75" fill="#c70f2e" stroke="#9a0a22" stroke-width="0.35"/>
<circle cx="209.60" cy="466.24" r="1.75" fill="#c70f2e" stroke="#9a0a22" stroke-width="0.35"/>
<circle cx="207.10" cy="467.49" r="1.75" fill="#c70f2e" stroke="#9a0a22" stroke-width="0.35"/>
<circle cx="208.90" cy="470.00" r="1.75" fill="#c70f2e" stroke="#9a0a22" stroke-width="0.35"/>
<circle cx="206.20" cy="471.88" r="1.75" fill="#c70f2e" stroke="#9a0a22" stroke-width="0.35"/>
<circle cx="209.90" cy="472.51" r="1.75" fill="#c70f2e" stroke="#9a0a22" stroke-width="0.35"/>
<circle cx="206.80" cy="474.39" r="1.75" fill="#c70f2e" stroke="#9a0a22" stroke-width="0.35"/>
<circle cx="220.50" cy="428.64" r="1.75" fill="#c70f2e" stroke="#9a0a22" stroke-width="0.35"/>
<circle cx="221.80" cy="453.71" r="1.75" fill="#c70f2e" stroke="#9a0a22" stroke-width="0.35"/>
<circle cx="219.30" cy="456.21" r="1.75" fill="#c70f2e" stroke="#9a0a22" stroke-width="0.35"/>
<circle cx="221.10" cy="461.23" r="1.75" fill="#c70f2e" stroke="#9a0a22" stroke-width="0.35"/>
<circle cx="219.80" cy="464.36" r="1.75" fill="#c70f2e" stroke="#9a0a22" stroke-width="0.35"/>
<circle cx="222.10" cy="466.87" r="1.75" fill="#c70f2e" stroke="#9a0a22" stroke-width="0.35"/>
<circle cx="219.00" cy="470.63" r="1.75" fill="#c70f2e" stroke="#9a0a22" stroke-width="0.35"/>
<circle cx="220.80" cy="473.13" r="1.75" fill="#c70f2e" stroke="#9a0a22" stroke-width="0.35"/>
<circle cx="218.70" cy="474.70" r="1.75" fill="#c70f2e" stroke="#9a0a22" stroke-width="0.35"/>
<line x1="200.10" y1="479.90" x2="200.10" y2="382.90" stroke="#161616" stroke-width="1.2"/>
<line x1="199.60" y1="479.40" x2="228.40" y2="479.40" stroke="#161616" stroke-width="1.2"/>
<line x1="208.30" y1="479.40" x2="208.30" y2="481.60" stroke="#222" stroke-width="0.8"/>
<line x1="220.50" y1="479.40" x2="220.50" y2="481.60" stroke="#222" stroke-width="0.8"/>
<line x1="197.10" y1="479.40" x2="200.10" y2="479.40" stroke="#222" stroke-width="0.9"/>
<text x="194.20" y="481.75" font-size="6.6" text-anchor="end" fill="#262626" font-weight="normal" stroke="#262626" stroke-width="0.2" textLength="3.3" lengthAdjust="spacingAndGlyphs">0</text>
<line x1="197.10" y1="460.60" x2="200.10" y2="460.60" stroke="#222" stroke-width="0.9"/>
<text x="194.20" y="462.95" font-size="6.6" text-anchor="end" fill="#262626" font-weight="normal" stroke="#262626" stroke-width="0.2" textLength="6.6" lengthAdjust="spacingAndGlyphs">30</text>
<line x1="197.10" y1="441.80" x2="200.10" y2="441.80" stroke="#222" stroke-width="0.9"/>
<text x="194.20" y="444.15" font-size="6.6" text-anchor="end" fill="#262626" font-weight="normal" stroke="#262626" stroke-width="0.2" textLength="6.6" lengthAdjust="spacingAndGlyphs">60</text>
<line x1="197.10" y1="423.00" x2="200.10" y2="423.00" stroke="#222" stroke-width="0.9"/>
<text x="194.20" y="425.35" font-size="6.6" text-anchor="end" fill="#262626" font-weight="normal" stroke="#262626" stroke-width="0.2" textLength="6.6" lengthAdjust="spacingAndGlyphs">90</text>
<line x1="197.10" y1="404.20" x2="200.10" y2="404.20" stroke="#222" stroke-width="0.9"/>
<text x="194.20" y="406.55" font-size="6.6" text-anchor="end" fill="#262626" font-weight="normal" stroke="#262626" stroke-width="0.2" textLength="9.9" lengthAdjust="spacingAndGlyphs">120</text>
<line x1="197.10" y1="385.40" x2="200.10" y2="385.40" stroke="#222" stroke-width="0.9"/>
<text x="194.20" y="387.75" font-size="6.6" text-anchor="end" fill="#262626" font-weight="normal" stroke="#262626" stroke-width="0.2" textLength="9.9" lengthAdjust="spacingAndGlyphs">150</text>
<path d="M208.30,417.68V415.48H220.50V417.68" fill="none" stroke="#111" stroke-width="1.0"/>
<text x="214.40" y="413.78" font-size="5.6" text-anchor="middle" fill="#222" font-weight="normal" stroke="#222" stroke-width="0.24">ns</text>
<text transform="translate(178.40,431.10) rotate(-90)" x="0" y="0" font-size="7.4" text-anchor="middle" fill="#2e2e2e" stroke="#2e2e2e" stroke-width="0.1" textLength="61" lengthAdjust="spacingAndGlyphs">Anti-HOD IgM (MFI)</text>
<text x="198.20" y="489.20" font-size="6.1" text-anchor="end" fill="#333" font-weight="normal" stroke="#333" stroke-width="0.12" textLength="29.0" lengthAdjust="spacingAndGlyphs">anti-Duffy:</text>
<text x="208.30" y="489.00" font-size="5.9" text-anchor="middle" fill="#242424" font-weight="normal" stroke="#242424" stroke-width="0.24">–</text>
<text x="220.50" y="489.20" font-size="5.9" text-anchor="middle" fill="#242424" font-weight="normal" stroke="#242424" stroke-width="0.24">+</text>
<text x="296.60" y="349.30" font-size="11.3" text-anchor="start" fill="#111" font-weight="bold" stroke="#111" stroke-width="0.15">E</text>
<text x="401.00" y="351.60" font-size="8.1" text-anchor="start" fill="#242424" font-weight="normal" stroke="#242424" stroke-width="0.24" textLength="29.9" lengthAdjust="spacingAndGlyphs">D14 IgG</text>
<line x1="320.00" y1="356.50" x2="512.00" y2="356.50" stroke="#363636" stroke-width="1.0"/>
<text x="338.70" y="373.60" font-size="8.0" text-anchor="start" fill="#242424" font-weight="normal" stroke="#242424" stroke-width="0.24" textLength="8.8" lengthAdjust="spacingAndGlyphs">10</text>
<text x="348.10" y="369.50" font-size="6.0" text-anchor="start" fill="#242424" font-weight="normal" stroke="#242424" stroke-width="0.18" textLength="2.9" lengthAdjust="spacingAndGlyphs">7</text>
<text x="353.50" y="373.60" font-size="7.9" text-anchor="start" fill="#242424" font-weight="normal" stroke="#242424" stroke-width="0.24" textLength="18.9" lengthAdjust="spacingAndGlyphs">RBCs</text>
<text x="404.20" y="373.60" font-size="8.0" text-anchor="start" fill="#242424" font-weight="normal" stroke="#242424" stroke-width="0.24" textLength="8.8" lengthAdjust="spacingAndGlyphs">10</text>
<text x="413.60" y="369.50" font-size="6.0" text-anchor="start" fill="#242424" font-weight="normal" stroke="#242424" stroke-width="0.18" textLength="2.9" lengthAdjust="spacingAndGlyphs">8</text>
<text x="419.00" y="373.60" font-size="7.9" text-anchor="start" fill="#242424" font-weight="normal" stroke="#242424" stroke-width="0.24" textLength="18.9" lengthAdjust="spacingAndGlyphs">RBCs</text>
<text x="471.40" y="373.60" font-size="8.0" text-anchor="start" fill="#242424" font-weight="normal" stroke="#242424" stroke-width="0.24" textLength="8.8" lengthAdjust="spacingAndGlyphs">10</text>
<text x="480.80" y="369.50" font-size="6.0" text-anchor="start" fill="#242424" font-weight="normal" stroke="#242424" stroke-width="0.18" textLength="2.9" lengthAdjust="spacingAndGlyphs">9</text>
<text x="486.20" y="373.60" font-size="7.9" text-anchor="start" fill="#242424" font-weight="normal" stroke="#242424" stroke-width="0.24" textLength="18.9" lengthAdjust="spacingAndGlyphs">RBCs</text>
<rect x="345.70" y="472.89" width="6.4" height="6.71" fill="#afd59b"/>
<rect x="357.90" y="476.91" width="6.4" height="2.69" fill="#afd59b"/>
<line x1="348.90" y1="470.20" x2="348.90" y2="475.57" stroke="#2a9236" stroke-width="0.7"/>
<line x1="347.60" y1="470.20" x2="350.20" y2="470.20" stroke="#2a9236" stroke-width="0.7"/>
<line x1="347.60" y1="475.57" x2="350.20" y2="475.57" stroke="#2a9236" stroke-width="0.7"/>
<line x1="361.10" y1="475.84" x2="361.10" y2="477.99" stroke="#2a9236" stroke-width="0.7"/>
<line x1="359.80" y1="475.84" x2="362.40" y2="475.84" stroke="#2a9236" stroke-width="0.7"/>
<line x1="359.80" y1="477.99" x2="362.40" y2="477.99" stroke="#2a9236" stroke-width="0.7"/>
<circle cx="348.90" cy="468.32" r="1.75" fill="#2a9236" stroke="#1d6e28" stroke-width="0.35"/>
<circle cx="351.60" cy="469.39" r="1.75" fill="#2a9236" stroke="#1d6e28" stroke-width="0.35"/>
<circle cx="346.30" cy="470.20" r="1.75" fill="#2a9236" stroke="#1d6e28" stroke-width="0.35"/>
<circle cx="349.50" cy="471.01" r="1.75" fill="#2a9236" stroke="#1d6e28" stroke-width="0.35"/>
<circle cx="348.20" cy="471.54" r="1.75" fill="#2a9236" stroke="#1d6e28" stroke-width="0.35"/>
<circle cx="351.90" cy="472.62" r="1.75" fill="#2a9236" stroke="#1d6e28" stroke-width="0.35"/>
<circle cx="346.00" cy="473.69" r="1.75" fill="#2a9236" stroke="#1d6e28" stroke-width="0.35"/>
<circle cx="349.20" cy="474.77" r="1.75" fill="#2a9236" stroke="#1d6e28" stroke-width="0.35"/>
<circle cx="352.10" cy="475.84" r="1.75" fill="#2a9236" stroke="#1d6e28" stroke-width="0.35"/>
<circle cx="347.30" cy="476.91" r="1.75" fill="#2a9236" stroke="#1d6e28" stroke-width="0.35"/>
<circle cx="350.50" cy="477.99" r="1.75" fill="#2a9236" stroke="#1d6e28" stroke-width="0.35"/>
<circle cx="361.10" cy="474.77" r="1.75" fill="#2a9236" stroke="#1d6e28" stroke-width="0.35"/>
<circle cx="363.80" cy="475.84" r="1.75" fill="#2a9236" stroke="#1d6e28" stroke-width="0.35"/>
<circle cx="358.50" cy="476.38" r="1.75" fill="#2a9236" stroke="#1d6e28" stroke-width="0.35"/>
<circle cx="361.70" cy="476.91" r="1.75" fill="#2a9236" stroke="#1d6e28" stroke-width="0.35"/>
<circle cx="360.40" cy="477.45" r="1.75" fill="#2a9236" stroke="#1d6e28" stroke-width="0.35"/>
<circle cx="362.70" cy="477.99" r="1.75" fill="#2a9236" stroke="#1d6e28" stroke-width="0.35"/>
<circle cx="359.60" cy="478.26" r="1.75" fill="#2a9236" stroke="#1d6e28" stroke-width="0.35"/>
<circle cx="361.40" cy="478.53" r="1.75" fill="#2a9236" stroke="#1d6e28" stroke-width="0.35"/>
<line x1="340.70" y1="480.10" x2="340.70" y2="383.10" stroke="#161616" stroke-width="1.2"/>
<line x1="340.20" y1="479.60" x2="369.00" y2="479.60" stroke="#161616" stroke-width="1.2"/>
<line x1="348.90" y1="479.60" x2="348.90" y2="481.80" stroke="#222" stroke-width="0.8"/>
<line x1="361.10" y1="479.60" x2="361.10" y2="481.80" stroke="#222" stroke-width="0.8"/>
<line x1="337.70" y1="479.60" x2="340.70" y2="479.60" stroke="#222" stroke-width="0.9"/>
<text x="334.80" y="481.95" font-size="6.6" text-anchor="end" fill="#262626" font-weight="normal" stroke="#262626" stroke-width="0.2" textLength="3.3" lengthAdjust="spacingAndGlyphs">0</text>
<line x1="337.70" y1="460.80" x2="340.70" y2="460.80" stroke="#222" stroke-width="0.9"/>
<text x="334.80" y="463.15" font-size="6.6" text-anchor="end" fill="#262626" font-weight="normal" stroke="#262626" stroke-width="0.2" textLength="6.6" lengthAdjust="spacingAndGlyphs">70</text>
<line x1="337.70" y1="442.00" x2="340.70" y2="442.00" stroke="#222" stroke-width="0.9"/>
<text x="334.80" y="444.35" font-size="6.6" text-anchor="end" fill="#262626" font-weight="normal" stroke="#262626" stroke-width="0.2" textLength="9.9" lengthAdjust="spacingAndGlyphs">140</text>
<line x1="337.70" y1="423.20" x2="340.70" y2="423.20" stroke="#222" stroke-width="0.9"/>
<text x="334.80" y="425.55" font-size="6.6" text-anchor="end" fill="#262626" font-weight="normal" stroke="#262626" stroke-width="0.2" textLength="9.9" lengthAdjust="spacingAndGlyphs">210</text>
<line x1="337.70" y1="404.40" x2="340.70" y2="404.40" stroke="#222" stroke-width="0.9"/>
<text x="334.80" y="406.75" font-size="6.6" text-anchor="end" fill="#262626" font-weight="normal" stroke="#262626" stroke-width="0.2" textLength="9.9" lengthAdjust="spacingAndGlyphs">280</text>
<line x1="337.70" y1="385.60" x2="340.70" y2="385.60" stroke="#222" stroke-width="0.9"/>
<text x="334.80" y="387.95" font-size="6.6" text-anchor="end" fill="#262626" font-weight="normal" stroke="#262626" stroke-width="0.2" textLength="9.9" lengthAdjust="spacingAndGlyphs">350</text>
<path d="M348.90,456.29V454.09H361.10V456.29" fill="none" stroke="#111" stroke-width="1.0"/>
<circle cx="351.90" cy="451.49" r="1.0" fill="#2a2a2a"/>
<circle cx="355.00" cy="451.49" r="1.0" fill="#2a2a2a"/>
<circle cx="358.10" cy="451.49" r="1.0" fill="#2a2a2a"/>
<text transform="translate(319.00,431.30) rotate(-90)" x="0" y="0" font-size="7.4" text-anchor="middle" fill="#2e2e2e" stroke="#2e2e2e" stroke-width="0.1" textLength="61" lengthAdjust="spacingAndGlyphs">Anti-HOD IgG (MFI)</text>
<text x="338.80" y="489.40" font-size="6.1" text-anchor="end" fill="#333" font-weight="normal" stroke="#333" stroke-width="0.12" textLength="29.0" lengthAdjust="spacingAndGlyphs">anti-Duffy:</text>
<text x="348.90" y="489.20" font-size="5.9" text-anchor="middle" fill="#242424" font-weight="normal" stroke="#242424" stroke-width="0.24">–</text>
<text x="361.10" y="489.40" font-size="5.9" text-anchor="middle" fill="#242424" font-weight="normal" stroke="#242424" stroke-width="0.24">+</text>
<rect x="414.10" y="476.07" width="6.4" height="4.03" fill="#8d9cc8"/>
<rect x="426.30" y="445.72" width="6.4" height="34.38" fill="#8d9cc8"/>
<line x1="417.30" y1="473.92" x2="417.30" y2="478.22" stroke="#16427a" stroke-width="0.7"/>
<line x1="416.00" y1="473.92" x2="418.60" y2="473.92" stroke="#16427a" stroke-width="0.7"/>
<line x1="416.00" y1="478.22" x2="418.60" y2="478.22" stroke="#16427a" stroke-width="0.7"/>
<line x1="429.50" y1="426.92" x2="429.50" y2="464.52" stroke="#16427a" stroke-width="0.7"/>
<line x1="428.20" y1="426.92" x2="430.80" y2="426.92" stroke="#16427a" stroke-width="0.7"/>
<line x1="428.20" y1="464.52" x2="430.80" y2="464.52" stroke="#16427a" stroke-width="0.7"/>
<circle cx="417.30" cy="469.63" r="1.75" fill="#16427a" stroke="#0d2a50" stroke-width="0.35"/>
<circle cx="418.60" cy="475.80" r="1.75" fill="#16427a" stroke="#0d2a50" stroke-width="0.35"/>
<circle cx="416.10" cy="476.34" r="1.75" fill="#16427a" stroke="#0d2a50" stroke-width="0.35"/>
<circle cx="417.90" cy="476.61" r="1.75" fill="#16427a" stroke="#0d2a50" stroke-width="0.35"/>
<circle cx="416.60" cy="476.88" r="1.75" fill="#16427a" stroke="#0d2a50" stroke-width="0.35"/>
<circle cx="418.90" cy="477.15" r="1.75" fill="#16427a" stroke="#0d2a50" stroke-width="0.35"/>
<circle cx="415.80" cy="477.41" r="1.75" fill="#16427a" stroke="#0d2a50" stroke-width="0.35"/>
<circle cx="417.60" cy="477.68" r="1.75" fill="#16427a" stroke="#0d2a50" stroke-width="0.35"/>
<circle cx="429.50" cy="420.75" r="1.75" fill="#16427a" stroke="#0d2a50" stroke-width="0.35"/>
<circle cx="432.20" cy="421.55" r="1.75" fill="#16427a" stroke="#0d2a50" stroke-width="0.35"/>
<circle cx="428.30" cy="438.47" r="1.75" fill="#16427a" stroke="#0d2a50" stroke-width="0.35"/>
<circle cx="431.50" cy="439.81" r="1.75" fill="#16427a" stroke="#0d2a50" stroke-width="0.35"/>
<circle cx="426.30" cy="440.62" r="1.75" fill="#16427a" stroke="#0d2a50" stroke-width="0.35"/>
<circle cx="429.10" cy="441.16" r="1.75" fill="#16427a" stroke="#0d2a50" stroke-width="0.35"/>
<circle cx="428.00" cy="458.35" r="1.75" fill="#16427a" stroke="#0d2a50" stroke-width="0.35"/>
<circle cx="429.80" cy="465.87" r="1.75" fill="#16427a" stroke="#0d2a50" stroke-width="0.35"/>
<circle cx="429.10" cy="477.95" r="1.75" fill="#16427a" stroke="#0d2a50" stroke-width="0.35"/>
<line x1="409.10" y1="480.60" x2="409.10" y2="383.60" stroke="#161616" stroke-width="1.2"/>
<line x1="408.60" y1="480.10" x2="437.40" y2="480.10" stroke="#161616" stroke-width="1.2"/>
<line x1="417.30" y1="480.10" x2="417.30" y2="482.30" stroke="#222" stroke-width="0.8"/>
<line x1="429.50" y1="480.10" x2="429.50" y2="482.30" stroke="#222" stroke-width="0.8"/>
<line x1="406.10" y1="480.10" x2="409.10" y2="480.10" stroke="#222" stroke-width="0.9"/>
<text x="403.20" y="482.45" font-size="6.6" text-anchor="end" fill="#262626" font-weight="normal" stroke="#262626" stroke-width="0.2" textLength="3.3" lengthAdjust="spacingAndGlyphs">0</text>
<line x1="406.10" y1="461.30" x2="409.10" y2="461.30" stroke="#222" stroke-width="0.9"/>
<text x="403.20" y="463.65" font-size="6.6" text-anchor="end" fill="#262626" font-weight="normal" stroke="#262626" stroke-width="0.2" textLength="6.6" lengthAdjust="spacingAndGlyphs">70</text>
<line x1="406.10" y1="442.50" x2="409.10" y2="442.50" stroke="#222" stroke-width="0.9"/>
<text x="403.20" y="444.85" font-size="6.6" text-anchor="end" fill="#262626" font-weight="normal" stroke="#262626" stroke-width="0.2" textLength="9.9" lengthAdjust="spacingAndGlyphs">140</text>
<line x1="406.10" y1="423.70" x2="409.10" y2="423.70" stroke="#222" stroke-width="0.9"/>
<text x="403.20" y="426.05" font-size="6.6" text-anchor="end" fill="#262626" font-weight="normal" stroke="#262626" stroke-width="0.2" textLength="9.9" lengthAdjust="spacingAndGlyphs">210</text>
<line x1="406.10" y1="404.90" x2="409.10" y2="404.90" stroke="#222" stroke-width="0.9"/>
<text x="403.20" y="407.25" font-size="6.6" text-anchor="end" fill="#262626" font-weight="normal" stroke="#262626" stroke-width="0.2" textLength="9.9" lengthAdjust="spacingAndGlyphs">280</text>
<line x1="406.10" y1="386.10" x2="409.10" y2="386.10" stroke="#222" stroke-width="0.9"/>
<text x="403.20" y="388.45" font-size="6.6" text-anchor="end" fill="#262626" font-weight="normal" stroke="#262626" stroke-width="0.2" textLength="9.9" lengthAdjust="spacingAndGlyphs">350</text>
<path d="M417.30,409.79V407.59H429.50V409.79" fill="none" stroke="#111" stroke-width="1.0"/>
<circle cx="418.75" cy="404.99" r="1.0" fill="#2a2a2a"/>
<circle cx="421.85" cy="404.99" r="1.0" fill="#2a2a2a"/>
<circle cx="424.95" cy="404.99" r="1.0" fill="#2a2a2a"/>
<circle cx="428.05" cy="404.99" r="1.0" fill="#2a2a2a"/>
<text transform="translate(387.40,431.80) rotate(-90)" x="0" y="0" font-size="7.4" text-anchor="middle" fill="#2e2e2e" stroke="#2e2e2e" stroke-width="0.1" textLength="61" lengthAdjust="spacingAndGlyphs">Anti-HOD IgG (MFI)</text>
<text x="407.20" y="489.90" font-size="6.1" text-anchor="end" fill="#333" font-weight="normal" stroke="#333" stroke-width="0.12" textLength="29.0" lengthAdjust="spacingAndGlyphs">anti-Duffy:</text>
<text x="417.30" y="489.70" font-size="5.9" text-anchor="middle" fill="#242424" font-weight="normal" stroke="#242424" stroke-width="0.24">–</text>
<text x="429.50" y="489.90" font-size="5.9" text-anchor="middle" fill="#242424" font-weight="normal" stroke="#242424" stroke-width="0.24">+</text>
<rect x="482.70" y="477.92" width="6.4" height="1.88" fill="#e68e84"/>
<rect x="494.90" y="408.36" width="6.4" height="71.44" fill="#e68e84"/>
<line x1="485.90" y1="477.38" x2="485.90" y2="478.46" stroke="#c70f2e" stroke-width="0.7"/>
<line x1="484.60" y1="477.38" x2="487.20" y2="477.38" stroke="#c70f2e" stroke-width="0.7"/>
<line x1="484.60" y1="478.46" x2="487.20" y2="478.46" stroke="#c70f2e" stroke-width="0.7"/>
<line x1="498.10" y1="400.84" x2="498.10" y2="415.88" stroke="#c70f2e" stroke-width="0.7"/>
<line x1="496.80" y1="400.84" x2="499.40" y2="400.84" stroke="#c70f2e" stroke-width="0.7"/>
<line x1="496.80" y1="415.88" x2="499.40" y2="415.88" stroke="#c70f2e" stroke-width="0.7"/>
<circle cx="485.90" cy="477.11" r="1.75" fill="#c70f2e" stroke="#9a0a22" stroke-width="0.35"/>
<circle cx="488.60" cy="477.38" r="1.75" fill="#c70f2e" stroke="#9a0a22" stroke-width="0.35"/>
<circle cx="483.30" cy="477.65" r="1.75" fill="#c70f2e" stroke="#9a0a22" stroke-width="0.35"/>
<circle cx="486.50" cy="477.92" r="1.75" fill="#c70f2e" stroke="#9a0a22" stroke-width="0.35"/>
<circle cx="485.20" cy="478.19" r="1.75" fill="#c70f2e" stroke="#9a0a22" stroke-width="0.35"/>
<circle cx="487.50" cy="478.46" r="1.75" fill="#c70f2e" stroke="#9a0a22" stroke-width="0.35"/>
<circle cx="484.40" cy="478.73" r="1.75" fill="#c70f2e" stroke="#9a0a22" stroke-width="0.35"/>
<circle cx="498.10" cy="400.57" r="1.75" fill="#c70f2e" stroke="#9a0a22" stroke-width="0.35"/>
<circle cx="499.40" cy="403.26" r="1.75" fill="#c70f2e" stroke="#9a0a22" stroke-width="0.35"/>
<circle cx="496.90" cy="405.94" r="1.75" fill="#c70f2e" stroke="#9a0a22" stroke-width="0.35"/>
<circle cx="500.10" cy="407.29" r="1.75" fill="#c70f2e" stroke="#9a0a22" stroke-width="0.35"/>
<circle cx="497.40" cy="408.63" r="1.75" fill="#c70f2e" stroke="#9a0a22" stroke-width="0.35"/>
<circle cx="501.30" cy="409.43" r="1.75" fill="#c70f2e" stroke="#9a0a22" stroke-width="0.35"/>
<circle cx="495.20" cy="409.97" r="1.75" fill="#c70f2e" stroke="#9a0a22" stroke-width="0.35"/>
<circle cx="498.40" cy="411.31" r="1.75" fill="#c70f2e" stroke="#9a0a22" stroke-width="0.35"/>
<circle cx="497.70" cy="423.40" r="1.75" fill="#c70f2e" stroke="#9a0a22" stroke-width="0.35"/>
<circle cx="499.10" cy="425.55" r="1.75" fill="#c70f2e" stroke="#9a0a22" stroke-width="0.35"/>
<line x1="477.70" y1="480.30" x2="477.70" y2="383.30" stroke="#161616" stroke-width="1.2"/>
<line x1="477.20" y1="479.80" x2="506.00" y2="479.80" stroke="#161616" stroke-width="1.2"/>
<line x1="485.90" y1="479.80" x2="485.90" y2="482.00" stroke="#222" stroke-width="0.8"/>
<line x1="498.10" y1="479.80" x2="498.10" y2="482.00" stroke="#222" stroke-width="0.8"/>
<line x1="474.70" y1="479.80" x2="477.70" y2="479.80" stroke="#222" stroke-width="0.9"/>
<text x="471.80" y="482.15" font-size="6.6" text-anchor="end" fill="#262626" font-weight="normal" stroke="#262626" stroke-width="0.2" textLength="3.3" lengthAdjust="spacingAndGlyphs">0</text>
<line x1="474.70" y1="461.00" x2="477.70" y2="461.00" stroke="#222" stroke-width="0.9"/>
<text x="471.80" y="463.35" font-size="6.6" text-anchor="end" fill="#262626" font-weight="normal" stroke="#262626" stroke-width="0.2" textLength="6.6" lengthAdjust="spacingAndGlyphs">70</text>
<line x1="474.70" y1="442.20" x2="477.70" y2="442.20" stroke="#222" stroke-width="0.9"/>
<text x="471.80" y="444.55" font-size="6.6" text-anchor="end" fill="#262626" font-weight="normal" stroke="#262626" stroke-width="0.2" textLength="9.9" lengthAdjust="spacingAndGlyphs">140</text>
<line x1="474.70" y1="423.40" x2="477.70" y2="423.40" stroke="#222" stroke-width="0.9"/>
<text x="471.80" y="425.75" font-size="6.6" text-anchor="end" fill="#262626" font-weight="normal" stroke="#262626" stroke-width="0.2" textLength="9.9" lengthAdjust="spacingAndGlyphs">210</text>
<line x1="474.70" y1="404.60" x2="477.70" y2="404.60" stroke="#222" stroke-width="0.9"/>
<text x="471.80" y="406.95" font-size="6.6" text-anchor="end" fill="#262626" font-weight="normal" stroke="#262626" stroke-width="0.2" textLength="9.9" lengthAdjust="spacingAndGlyphs">280</text>
<line x1="474.70" y1="385.80" x2="477.70" y2="385.80" stroke="#222" stroke-width="0.9"/>
<text x="471.80" y="388.15" font-size="6.6" text-anchor="end" fill="#262626" font-weight="normal" stroke="#262626" stroke-width="0.2" textLength="9.9" lengthAdjust="spacingAndGlyphs">350</text>
<path d="M485.90,395.52V393.32H498.10V395.52" fill="none" stroke="#111" stroke-width="1.0"/>
<circle cx="487.35" cy="390.72" r="1.0" fill="#2a2a2a"/>
<circle cx="490.45" cy="390.72" r="1.0" fill="#2a2a2a"/>
<circle cx="493.55" cy="390.72" r="1.0" fill="#2a2a2a"/>
<circle cx="496.65" cy="390.72" r="1.0" fill="#2a2a2a"/>
<text transform="translate(456.00,431.50) rotate(-90)" x="0" y="0" font-size="7.4" text-anchor="middle" fill="#2e2e2e" stroke="#2e2e2e" stroke-width="0.1" textLength="61" lengthAdjust="spacingAndGlyphs">Anti-HOD IgG (MFI)</text>
<text x="475.80" y="489.60" font-size="6.1" text-anchor="end" fill="#333" font-weight="normal" stroke="#333" stroke-width="0.12" textLength="29.0" lengthAdjust="spacingAndGlyphs">anti-Duffy:</text>
<text x="485.90" y="489.40" font-size="5.9" text-anchor="middle" fill="#242424" font-weight="normal" stroke="#242424" stroke-width="0.24">–</text>
<text x="498.10" y="489.60" font-size="5.9" text-anchor="middle" fill="#242424" font-weight="normal" stroke="#242424" stroke-width="0.24">+</text>
<text x="7.00" y="519.80" font-size="11.3" text-anchor="start" fill="#111" font-weight="bold" stroke="#111" stroke-width="0.15">F</text>
<text x="123.60" y="521.90" font-size="8.1" text-anchor="start" fill="#242424" font-weight="normal" stroke="#242424" stroke-width="0.24" textLength="30.5" lengthAdjust="spacingAndGlyphs">D21 IgG</text>
<line x1="39.00" y1="525.60" x2="239.00" y2="525.60" stroke="#363636" stroke-width="1.0"/>
<text x="67.80" y="544.00" font-size="8.0" text-anchor="start" fill="#242424" font-weight="normal" stroke="#242424" stroke-width="0.24" textLength="8.8" lengthAdjust="spacingAndGlyphs">10</text>
<text x="77.20" y="539.90" font-size="6.0" text-anchor="start" fill="#242424" font-weight="normal" stroke="#242424" stroke-width="0.18" textLength="2.9" lengthAdjust="spacingAndGlyphs">7</text>
<text x="82.60" y="544.00" font-size="7.9" text-anchor="start" fill="#242424" font-weight="normal" stroke="#242424" stroke-width="0.24" textLength="18.9" lengthAdjust="spacingAndGlyphs">RBCs</text>
<text x="133.20" y="544.00" font-size="8.0" text-anchor="start" fill="#242424" font-weight="normal" stroke="#242424" stroke-width="0.24" textLength="8.8" lengthAdjust="spacingAndGlyphs">10</text>
<text x="142.60" y="539.90" font-size="6.0" text-anchor="start" fill="#242424" font-weight="normal" stroke="#242424" stroke-width="0.18" textLength="2.9" lengthAdjust="spacingAndGlyphs">8</text>
<text x="148.00" y="544.00" font-size="7.9" text-anchor="start" fill="#242424" font-weight="normal" stroke="#242424" stroke-width="0.24" textLength="18.9" lengthAdjust="spacingAndGlyphs">RBCs</text>
<text x="200.60" y="544.00" font-size="8.0" text-anchor="start" fill="#242424" font-weight="normal" stroke="#242424" stroke-width="0.24" textLength="8.8" lengthAdjust="spacingAndGlyphs">10</text>
<text x="210.00" y="539.90" font-size="6.0" text-anchor="start" fill="#242424" font-weight="normal" stroke="#242424" stroke-width="0.18" textLength="2.9" lengthAdjust="spacingAndGlyphs">9</text>
<text x="215.40" y="544.00" font-size="7.9" text-anchor="start" fill="#242424" font-weight="normal" stroke="#242424" stroke-width="0.24" textLength="18.9" lengthAdjust="spacingAndGlyphs">RBCs</text>
<rect x="74.00" y="643.52" width="6.4" height="6.18" fill="#afd59b"/>
<rect x="86.20" y="646.48" width="6.4" height="3.22" fill="#afd59b"/>
<line x1="77.20" y1="641.37" x2="77.20" y2="645.67" stroke="#2a9236" stroke-width="0.7"/>
<line x1="75.90" y1="641.37" x2="78.50" y2="641.37" stroke="#2a9236" stroke-width="0.7"/>
<line x1="75.90" y1="645.67" x2="78.50" y2="645.67" stroke="#2a9236" stroke-width="0.7"/>
<line x1="89.40" y1="645.13" x2="89.40" y2="647.82" stroke="#2a9236" stroke-width="0.7"/>
<line x1="88.10" y1="645.13" x2="90.70" y2="645.13" stroke="#2a9236" stroke-width="0.7"/>
<line x1="88.10" y1="647.82" x2="90.70" y2="647.82" stroke="#2a9236" stroke-width="0.7"/>
<circle cx="77.20" cy="638.96" r="1.75" fill="#2a9236" stroke="#1d6e28" stroke-width="0.35"/>
<circle cx="78.50" cy="641.11" r="1.75" fill="#2a9236" stroke="#1d6e28" stroke-width="0.35"/>
<circle cx="76.00" cy="642.18" r="1.75" fill="#2a9236" stroke="#1d6e28" stroke-width="0.35"/>
<circle cx="80.40" cy="643.25" r="1.75" fill="#2a9236" stroke="#1d6e28" stroke-width="0.35"/>
<circle cx="77.90" cy="643.79" r="1.75" fill="#2a9236" stroke="#1d6e28" stroke-width="0.35"/>
<circle cx="74.00" cy="644.33" r="1.75" fill="#2a9236" stroke="#1d6e28" stroke-width="0.35"/>
<circle cx="75.70" cy="644.87" r="1.75" fill="#2a9236" stroke="#1d6e28" stroke-width="0.35"/>
<circle cx="80.10" cy="645.67" r="1.75" fill="#2a9236" stroke="#1d6e28" stroke-width="0.35"/>
<circle cx="77.50" cy="646.48" r="1.75" fill="#2a9236" stroke="#1d6e28" stroke-width="0.35"/>
<circle cx="89.40" cy="643.79" r="1.75" fill="#2a9236" stroke="#1d6e28" stroke-width="0.35"/>
<circle cx="92.10" cy="644.87" r="1.75" fill="#2a9236" stroke="#1d6e28" stroke-width="0.35"/>
<circle cx="86.80" cy="645.67" r="1.75" fill="#2a9236" stroke="#1d6e28" stroke-width="0.35"/>
<circle cx="90.00" cy="646.48" r="1.75" fill="#2a9236" stroke="#1d6e28" stroke-width="0.35"/>
<circle cx="88.70" cy="647.01" r="1.75" fill="#2a9236" stroke="#1d6e28" stroke-width="0.35"/>
<circle cx="92.40" cy="647.28" r="1.75" fill="#2a9236" stroke="#1d6e28" stroke-width="0.35"/>
<circle cx="87.90" cy="647.55" r="1.75" fill="#2a9236" stroke="#1d6e28" stroke-width="0.35"/>
<circle cx="89.70" cy="648.09" r="1.75" fill="#2a9236" stroke="#1d6e28" stroke-width="0.35"/>
<line x1="69.00" y1="650.20" x2="69.00" y2="553.20" stroke="#161616" stroke-width="1.2"/>
<line x1="68.50" y1="649.70" x2="97.30" y2="649.70" stroke="#161616" stroke-width="1.2"/>
<line x1="77.20" y1="649.70" x2="77.20" y2="651.90" stroke="#222" stroke-width="0.8"/>
<line x1="89.40" y1="649.70" x2="89.40" y2="651.90" stroke="#222" stroke-width="0.8"/>
<line x1="66.00" y1="649.70" x2="69.00" y2="649.70" stroke="#222" stroke-width="0.9"/>
<text x="63.10" y="652.05" font-size="6.6" text-anchor="end" fill="#262626" font-weight="normal" stroke="#262626" stroke-width="0.2" textLength="3.3" lengthAdjust="spacingAndGlyphs">0</text>
<line x1="66.00" y1="630.90" x2="69.00" y2="630.90" stroke="#222" stroke-width="0.9"/>
<text x="63.10" y="633.25" font-size="6.6" text-anchor="end" fill="#262626" font-weight="normal" stroke="#262626" stroke-width="0.2" textLength="6.6" lengthAdjust="spacingAndGlyphs">70</text>
<line x1="66.00" y1="612.10" x2="69.00" y2="612.10" stroke="#222" stroke-width="0.9"/>
<text x="63.10" y="614.45" font-size="6.6" text-anchor="end" fill="#262626" font-weight="normal" stroke="#262626" stroke-width="0.2" textLength="9.9" lengthAdjust="spacingAndGlyphs">140</text>
<line x1="66.00" y1="593.30" x2="69.00" y2="593.30" stroke="#222" stroke-width="0.9"/>
<text x="63.10" y="595.65" font-size="6.6" text-anchor="end" fill="#262626" font-weight="normal" stroke="#262626" stroke-width="0.2" textLength="9.9" lengthAdjust="spacingAndGlyphs">210</text>
<line x1="66.00" y1="574.50" x2="69.00" y2="574.50" stroke="#222" stroke-width="0.9"/>
<text x="63.10" y="576.85" font-size="6.6" text-anchor="end" fill="#262626" font-weight="normal" stroke="#262626" stroke-width="0.2" textLength="9.9" lengthAdjust="spacingAndGlyphs">280</text>
<line x1="66.00" y1="555.70" x2="69.00" y2="555.70" stroke="#222" stroke-width="0.9"/>
<text x="63.10" y="558.05" font-size="6.6" text-anchor="end" fill="#262626" font-weight="normal" stroke="#262626" stroke-width="0.2" textLength="9.9" lengthAdjust="spacingAndGlyphs">350</text>
<path d="M77.20,626.39V624.19H89.40V626.39" fill="none" stroke="#111" stroke-width="1.0"/>
<circle cx="80.20" cy="621.59" r="1.0" fill="#2a2a2a"/>
<circle cx="83.30" cy="621.59" r="1.0" fill="#2a2a2a"/>
<circle cx="86.40" cy="621.59" r="1.0" fill="#2a2a2a"/>
<text transform="translate(47.30,601.40) rotate(-90)" x="0" y="0" font-size="7.4" text-anchor="middle" fill="#2e2e2e" stroke="#2e2e2e" stroke-width="0.1" textLength="61" lengthAdjust="spacingAndGlyphs">Anti-HOD IgG (MFI)</text>
<text x="67.10" y="659.50" font-size="6.1" text-anchor="end" fill="#333" font-weight="normal" stroke="#333" stroke-width="0.12" textLength="29.0" lengthAdjust="spacingAndGlyphs">anti-Duffy:</text>
<text x="77.20" y="659.30" font-size="5.9" text-anchor="middle" fill="#242424" font-weight="normal" stroke="#242424" stroke-width="0.24">–</text>
<text x="89.40" y="659.50" font-size="5.9" text-anchor="middle" fill="#242424" font-weight="normal" stroke="#242424" stroke-width="0.24">+</text>
<rect x="140.30" y="646.34" width="6.4" height="3.76" fill="#8d9cc8"/>
<rect x="152.50" y="607.67" width="6.4" height="42.43" fill="#8d9cc8"/>
<line x1="143.50" y1="644.19" x2="143.50" y2="648.49" stroke="#16427a" stroke-width="0.7"/>
<line x1="142.20" y1="644.19" x2="144.80" y2="644.19" stroke="#16427a" stroke-width="0.7"/>
<line x1="142.20" y1="648.49" x2="144.80" y2="648.49" stroke="#16427a" stroke-width="0.7"/>
<line x1="155.70" y1="588.87" x2="155.70" y2="626.47" stroke="#16427a" stroke-width="0.7"/>
<line x1="154.40" y1="588.87" x2="157.00" y2="588.87" stroke="#16427a" stroke-width="0.7"/>
<line x1="154.40" y1="626.47" x2="157.00" y2="626.47" stroke="#16427a" stroke-width="0.7"/>
<circle cx="143.50" cy="640.43" r="1.75" fill="#16427a" stroke="#0d2a50" stroke-width="0.35"/>
<circle cx="144.80" cy="646.07" r="1.75" fill="#16427a" stroke="#0d2a50" stroke-width="0.35"/>
<circle cx="142.30" cy="646.61" r="1.75" fill="#16427a" stroke="#0d2a50" stroke-width="0.35"/>
<circle cx="144.10" cy="646.88" r="1.75" fill="#16427a" stroke="#0d2a50" stroke-width="0.35"/>
<circle cx="142.80" cy="647.15" r="1.75" fill="#16427a" stroke="#0d2a50" stroke-width="0.35"/>
<circle cx="145.10" cy="647.41" r="1.75" fill="#16427a" stroke="#0d2a50" stroke-width="0.35"/>
<circle cx="142.00" cy="647.68" r="1.75" fill="#16427a" stroke="#0d2a50" stroke-width="0.35"/>
<circle cx="143.80" cy="647.95" r="1.75" fill="#16427a" stroke="#0d2a50" stroke-width="0.35"/>
<circle cx="155.70" cy="587.25" r="1.75" fill="#16427a" stroke="#0d2a50" stroke-width="0.35"/>
<circle cx="158.40" cy="588.87" r="1.75" fill="#16427a" stroke="#0d2a50" stroke-width="0.35"/>
<circle cx="154.50" cy="591.82" r="1.75" fill="#16427a" stroke="#0d2a50" stroke-width="0.35"/>
<circle cx="156.30" cy="593.70" r="1.75" fill="#16427a" stroke="#0d2a50" stroke-width="0.35"/>
<circle cx="155.00" cy="598.00" r="1.75" fill="#16427a" stroke="#0d2a50" stroke-width="0.35"/>
<circle cx="157.30" cy="606.59" r="1.75" fill="#16427a" stroke="#0d2a50" stroke-width="0.35"/>
<circle cx="154.20" cy="608.47" r="1.75" fill="#16427a" stroke="#0d2a50" stroke-width="0.35"/>
<circle cx="156.00" cy="623.51" r="1.75" fill="#16427a" stroke="#0d2a50" stroke-width="0.35"/>
<circle cx="155.30" cy="629.96" r="1.75" fill="#16427a" stroke="#0d2a50" stroke-width="0.35"/>
<circle cx="156.70" cy="647.41" r="1.75" fill="#16427a" stroke="#0d2a50" stroke-width="0.35"/>
<line x1="135.30" y1="650.60" x2="135.30" y2="553.60" stroke="#161616" stroke-width="1.2"/>
<line x1="134.80" y1="650.10" x2="163.60" y2="650.10" stroke="#161616" stroke-width="1.2"/>
<line x1="143.50" y1="650.10" x2="143.50" y2="652.30" stroke="#222" stroke-width="0.8"/>
<line x1="155.70" y1="650.10" x2="155.70" y2="652.30" stroke="#222" stroke-width="0.8"/>
<line x1="132.30" y1="650.10" x2="135.30" y2="650.10" stroke="#222" stroke-width="0.9"/>
<text x="129.40" y="652.45" font-size="6.6" text-anchor="end" fill="#262626" font-weight="normal" stroke="#262626" stroke-width="0.2" textLength="3.3" lengthAdjust="spacingAndGlyphs">0</text>
<line x1="132.30" y1="631.30" x2="135.30" y2="631.30" stroke="#222" stroke-width="0.9"/>
<text x="129.40" y="633.65" font-size="6.6" text-anchor="end" fill="#262626" font-weight="normal" stroke="#262626" stroke-width="0.2" textLength="6.6" lengthAdjust="spacingAndGlyphs">70</text>
<line x1="132.30" y1="612.50" x2="135.30" y2="612.50" stroke="#222" stroke-width="0.9"/>
<text x="129.40" y="614.85" font-size="6.6" text-anchor="end" fill="#262626" font-weight="normal" stroke="#262626" stroke-width="0.2" textLength="9.9" lengthAdjust="spacingAndGlyphs">140</text>
<line x1="132.30" y1="593.70" x2="135.30" y2="593.70" stroke="#222" stroke-width="0.9"/>
<text x="129.40" y="596.05" font-size="6.6" text-anchor="end" fill="#262626" font-weight="normal" stroke="#262626" stroke-width="0.2" textLength="9.9" lengthAdjust="spacingAndGlyphs">210</text>
<line x1="132.30" y1="574.90" x2="135.30" y2="574.90" stroke="#222" stroke-width="0.9"/>
<text x="129.40" y="577.25" font-size="6.6" text-anchor="end" fill="#262626" font-weight="normal" stroke="#262626" stroke-width="0.2" textLength="9.9" lengthAdjust="spacingAndGlyphs">280</text>
<line x1="132.30" y1="556.10" x2="135.30" y2="556.10" stroke="#222" stroke-width="0.9"/>
<text x="129.40" y="558.45" font-size="6.6" text-anchor="end" fill="#262626" font-weight="normal" stroke="#262626" stroke-width="0.2" textLength="9.9" lengthAdjust="spacingAndGlyphs">350</text>
<path d="M143.50,575.76V573.56H155.70V575.76" fill="none" stroke="#111" stroke-width="1.0"/>
<circle cx="144.95" cy="570.96" r="1.0" fill="#2a2a2a"/>
<circle cx="148.05" cy="570.96" r="1.0" fill="#2a2a2a"/>
<circle cx="151.15" cy="570.96" r="1.0" fill="#2a2a2a"/>
<circle cx="154.25" cy="570.96" r="1.0" fill="#2a2a2a"/>
<text transform="translate(113.60,601.80) rotate(-90)" x="0" y="0" font-size="7.4" text-anchor="middle" fill="#2e2e2e" stroke="#2e2e2e" stroke-width="0.1" textLength="61" lengthAdjust="spacingAndGlyphs">Anti-HOD IgG (MFI)</text>
<text x="133.40" y="659.90" font-size="6.1" text-anchor="end" fill="#333" font-weight="normal" stroke="#333" stroke-width="0.12" textLength="29.0" lengthAdjust="spacingAndGlyphs">anti-Duffy:</text>
<text x="143.50" y="659.70" font-size="5.9" text-anchor="middle" fill="#242424" font-weight="normal" stroke="#242424" stroke-width="0.24">–</text>
<text x="155.70" y="659.90" font-size="5.9" text-anchor="middle" fill="#242424" font-weight="normal" stroke="#242424" stroke-width="0.24">+</text>
<rect x="206.50" y="644.33" width="6.4" height="5.37" fill="#e68e84"/>
<rect x="218.70" y="576.11" width="6.4" height="73.59" fill="#e68e84"/>
<line x1="209.70" y1="641.91" x2="209.70" y2="646.75" stroke="#c70f2e" stroke-width="0.7"/>
<line x1="208.40" y1="641.91" x2="211.00" y2="641.91" stroke="#c70f2e" stroke-width="0.7"/>
<line x1="208.40" y1="646.75" x2="211.00" y2="646.75" stroke="#c70f2e" stroke-width="0.7"/>
<line x1="221.90" y1="569.40" x2="221.90" y2="582.83" stroke="#c70f2e" stroke-width="0.7"/>
<line x1="220.60" y1="569.40" x2="223.20" y2="569.40" stroke="#c70f2e" stroke-width="0.7"/>
<line x1="220.60" y1="582.83" x2="223.20" y2="582.83" stroke="#c70f2e" stroke-width="0.7"/>
<circle cx="209.70" cy="639.23" r="1.75" fill="#c70f2e" stroke="#9a0a22" stroke-width="0.35"/>
<circle cx="211.00" cy="642.18" r="1.75" fill="#c70f2e" stroke="#9a0a22" stroke-width="0.35"/>
<circle cx="208.50" cy="644.33" r="1.75" fill="#c70f2e" stroke="#9a0a22" stroke-width="0.35"/>
<circle cx="211.70" cy="645.40" r="1.75" fill="#c70f2e" stroke="#9a0a22" stroke-width="0.35"/>
<circle cx="206.50" cy="645.94" r="1.75" fill="#c70f2e" stroke="#9a0a22" stroke-width="0.35"/>
<circle cx="211.30" cy="646.48" r="1.75" fill="#c70f2e" stroke="#9a0a22" stroke-width="0.35"/>
<circle cx="208.90" cy="647.01" r="1.75" fill="#c70f2e" stroke="#9a0a22" stroke-width="0.35"/>
<circle cx="221.90" cy="570.47" r="1.75" fill="#c70f2e" stroke="#9a0a22" stroke-width="0.35"/>
<circle cx="223.20" cy="573.16" r="1.75" fill="#c70f2e" stroke="#9a0a22" stroke-width="0.35"/>
<circle cx="220.70" cy="574.50" r="1.75" fill="#c70f2e" stroke="#9a0a22" stroke-width="0.35"/>
<circle cx="223.90" cy="575.57" r="1.75" fill="#c70f2e" stroke="#9a0a22" stroke-width="0.35"/>
<circle cx="218.70" cy="576.11" r="1.75" fill="#c70f2e" stroke="#9a0a22" stroke-width="0.35"/>
<circle cx="222.10" cy="577.19" r="1.75" fill="#c70f2e" stroke="#9a0a22" stroke-width="0.35"/>
<circle cx="219.00" cy="578.53" r="1.75" fill="#c70f2e" stroke="#9a0a22" stroke-width="0.35"/>
<circle cx="222.20" cy="585.24" r="1.75" fill="#c70f2e" stroke="#9a0a22" stroke-width="0.35"/>
<circle cx="221.50" cy="589.27" r="1.75" fill="#c70f2e" stroke="#9a0a22" stroke-width="0.35"/>
<circle cx="222.90" cy="592.49" r="1.75" fill="#c70f2e" stroke="#9a0a22" stroke-width="0.35"/>
<line x1="201.50" y1="650.20" x2="201.50" y2="553.20" stroke="#161616" stroke-width="1.2"/>
<line x1="201.00" y1="649.70" x2="229.80" y2="649.70" stroke="#161616" stroke-width="1.2"/>
<line x1="209.70" y1="649.70" x2="209.70" y2="651.90" stroke="#222" stroke-width="0.8"/>
<line x1="221.90" y1="649.70" x2="221.90" y2="651.90" stroke="#222" stroke-width="0.8"/>
<line x1="198.50" y1="649.70" x2="201.50" y2="649.70" stroke="#222" stroke-width="0.9"/>
<text x="195.60" y="652.05" font-size="6.6" text-anchor="end" fill="#262626" font-weight="normal" stroke="#262626" stroke-width="0.2" textLength="3.3" lengthAdjust="spacingAndGlyphs">0</text>
<line x1="198.50" y1="630.90" x2="201.50" y2="630.90" stroke="#222" stroke-width="0.9"/>
<text x="195.60" y="633.25" font-size="6.6" text-anchor="end" fill="#262626" font-weight="normal" stroke="#262626" stroke-width="0.2" textLength="6.6" lengthAdjust="spacingAndGlyphs">70</text>
<line x1="198.50" y1="612.10" x2="201.50" y2="612.10" stroke="#222" stroke-width="0.9"/>
<text x="195.60" y="614.45" font-size="6.6" text-anchor="end" fill="#262626" font-weight="normal" stroke="#262626" stroke-width="0.2" textLength="9.9" lengthAdjust="spacingAndGlyphs">140</text>
<line x1="198.50" y1="593.30" x2="201.50" y2="593.30" stroke="#222" stroke-width="0.9"/>
<text x="195.60" y="595.65" font-size="6.6" text-anchor="end" fill="#262626" font-weight="normal" stroke="#262626" stroke-width="0.2" textLength="9.9" lengthAdjust="spacingAndGlyphs">210</text>
<line x1="198.50" y1="574.50" x2="201.50" y2="574.50" stroke="#222" stroke-width="0.9"/>
<text x="195.60" y="576.85" font-size="6.6" text-anchor="end" fill="#262626" font-weight="normal" stroke="#262626" stroke-width="0.2" textLength="9.9" lengthAdjust="spacingAndGlyphs">280</text>
<line x1="198.50" y1="555.70" x2="201.50" y2="555.70" stroke="#222" stroke-width="0.9"/>
<text x="195.60" y="558.05" font-size="6.6" text-anchor="end" fill="#262626" font-weight="normal" stroke="#262626" stroke-width="0.2" textLength="9.9" lengthAdjust="spacingAndGlyphs">350</text>
<path d="M209.70,564.08V561.88H221.90V564.08" fill="none" stroke="#111" stroke-width="1.0"/>
<circle cx="211.15" cy="559.28" r="1.0" fill="#2a2a2a"/>
<circle cx="214.25" cy="559.28" r="1.0" fill="#2a2a2a"/>
<circle cx="217.35" cy="559.28" r="1.0" fill="#2a2a2a"/>
<circle cx="220.45" cy="559.28" r="1.0" fill="#2a2a2a"/>
<text transform="translate(179.80,601.40) rotate(-90)" x="0" y="0" font-size="7.4" text-anchor="middle" fill="#2e2e2e" stroke="#2e2e2e" stroke-width="0.1" textLength="61" lengthAdjust="spacingAndGlyphs">Anti-HOD Ig (MFI)G</text>
<text x="199.60" y="659.50" font-size="6.1" text-anchor="end" fill="#333" font-weight="normal" stroke="#333" stroke-width="0.12" textLength="29.0" lengthAdjust="spacingAndGlyphs">anti-Duffy:</text>
<text x="209.70" y="659.30" font-size="5.9" text-anchor="middle" fill="#242424" font-weight="normal" stroke="#242424" stroke-width="0.24">–</text>
<text x="221.90" y="659.50" font-size="5.9" text-anchor="middle" fill="#242424" font-weight="normal" stroke="#242424" stroke-width="0.24">+</text>
<text x="296.00" y="523.00" font-size="11.3" text-anchor="start" fill="#111" font-weight="bold" stroke="#111" stroke-width="0.15">G</text>
<text x="393.30" y="524.50" font-size="8.1" text-anchor="start" fill="#242424" font-weight="normal" stroke="#242424" stroke-width="0.24" textLength="30.5" lengthAdjust="spacingAndGlyphs">D28 IgG</text>
<line x1="309.00" y1="528.50" x2="508.50" y2="528.50" stroke="#363636" stroke-width="1.0"/>
<text x="341.00" y="548.50" font-size="8.0" text-anchor="start" fill="#242424" font-weight="normal" stroke="#242424" stroke-width="0.24" textLength="8.8" lengthAdjust="spacingAndGlyphs">10</text>
<text x="350.40" y="544.40" font-size="6.0" text-anchor="start" fill="#242424" font-weight="normal" stroke="#242424" stroke-width="0.18" textLength="2.9" lengthAdjust="spacingAndGlyphs">7</text>
<text x="355.80" y="548.50" font-size="7.9" text-anchor="start" fill="#242424" font-weight="normal" stroke="#242424" stroke-width="0.24" textLength="18.9" lengthAdjust="spacingAndGlyphs">RBCs</text>
<text x="406.00" y="548.50" font-size="8.0" text-anchor="start" fill="#242424" font-weight="normal" stroke="#242424" stroke-width="0.24" textLength="8.8" lengthAdjust="spacingAndGlyphs">10</text>
<text x="415.40" y="544.40" font-size="6.0" text-anchor="start" fill="#242424" font-weight="normal" stroke="#242424" stroke-width="0.18" textLength="2.9" lengthAdjust="spacingAndGlyphs">8</text>
<text x="420.80" y="548.50" font-size="7.9" text-anchor="start" fill="#242424" font-weight="normal" stroke="#242424" stroke-width="0.24" textLength="18.9" lengthAdjust="spacingAndGlyphs">RBCs</text>
<text x="473.50" y="548.50" font-size="8.0" text-anchor="start" fill="#242424" font-weight="normal" stroke="#242424" stroke-width="0.24" textLength="8.8" lengthAdjust="spacingAndGlyphs">10</text>
<text x="482.90" y="544.40" font-size="6.0" text-anchor="start" fill="#242424" font-weight="normal" stroke="#242424" stroke-width="0.18" textLength="2.9" lengthAdjust="spacingAndGlyphs">9</text>
<text x="488.30" y="548.50" font-size="7.9" text-anchor="start" fill="#242424" font-weight="normal" stroke="#242424" stroke-width="0.24" textLength="18.9" lengthAdjust="spacingAndGlyphs">RBCs</text>
<rect x="345.70" y="648.67" width="6.4" height="4.03" fill="#afd59b"/>
<rect x="357.90" y="650.28" width="6.4" height="2.42" fill="#afd59b"/>
<line x1="348.90" y1="647.06" x2="348.90" y2="650.28" stroke="#2a9236" stroke-width="0.7"/>
<line x1="347.60" y1="647.06" x2="350.20" y2="647.06" stroke="#2a9236" stroke-width="0.7"/>
<line x1="347.60" y1="650.28" x2="350.20" y2="650.28" stroke="#2a9236" stroke-width="0.7"/>
<line x1="361.10" y1="649.21" x2="361.10" y2="651.36" stroke="#2a9236" stroke-width="0.7"/>
<line x1="359.80" y1="649.21" x2="362.40" y2="649.21" stroke="#2a9236" stroke-width="0.7"/>
<line x1="359.80" y1="651.36" x2="362.40" y2="651.36" stroke="#2a9236" stroke-width="0.7"/>
<circle cx="348.90" cy="645.72" r="1.75" fill="#2a9236" stroke="#1d6e28" stroke-width="0.35"/>
<circle cx="351.60" cy="646.79" r="1.75" fill="#2a9236" stroke="#1d6e28" stroke-width="0.35"/>
<circle cx="347.70" cy="647.87" r="1.75" fill="#2a9236" stroke="#1d6e28" stroke-width="0.35"/>
<circle cx="349.50" cy="648.67" r="1.75" fill="#2a9236" stroke="#1d6e28" stroke-width="0.35"/>
<circle cx="345.70" cy="649.21" r="1.75" fill="#2a9236" stroke="#1d6e28" stroke-width="0.35"/>
<circle cx="351.90" cy="649.48" r="1.75" fill="#2a9236" stroke="#1d6e28" stroke-width="0.35"/>
<circle cx="347.40" cy="650.01" r="1.75" fill="#2a9236" stroke="#1d6e28" stroke-width="0.35"/>
<circle cx="349.20" cy="650.55" r="1.75" fill="#2a9236" stroke="#1d6e28" stroke-width="0.35"/>
<circle cx="361.10" cy="648.40" r="1.75" fill="#2a9236" stroke="#1d6e28" stroke-width="0.35"/>
<circle cx="363.80" cy="649.48" r="1.75" fill="#2a9236" stroke="#1d6e28" stroke-width="0.35"/>
<circle cx="358.50" cy="650.01" r="1.75" fill="#2a9236" stroke="#1d6e28" stroke-width="0.35"/>
<circle cx="361.70" cy="650.55" r="1.75" fill="#2a9236" stroke="#1d6e28" stroke-width="0.35"/>
<circle cx="360.40" cy="650.82" r="1.75" fill="#2a9236" stroke="#1d6e28" stroke-width="0.35"/>
<circle cx="362.70" cy="651.09" r="1.75" fill="#2a9236" stroke="#1d6e28" stroke-width="0.35"/>
<circle cx="359.60" cy="651.36" r="1.75" fill="#2a9236" stroke="#1d6e28" stroke-width="0.35"/>
<line x1="340.70" y1="653.20" x2="340.70" y2="556.20" stroke="#161616" stroke-width="1.2"/>
<line x1="340.20" y1="652.70" x2="369.00" y2="652.70" stroke="#161616" stroke-width="1.2"/>
<line x1="348.90" y1="652.70" x2="348.90" y2="654.90" stroke="#222" stroke-width="0.8"/>
<line x1="361.10" y1="652.70" x2="361.10" y2="654.90" stroke="#222" stroke-width="0.8"/>
<line x1="337.70" y1="652.70" x2="340.70" y2="652.70" stroke="#222" stroke-width="0.9"/>
<text x="334.80" y="655.05" font-size="6.6" text-anchor="end" fill="#262626" font-weight="normal" stroke="#262626" stroke-width="0.2" textLength="3.3" lengthAdjust="spacingAndGlyphs">0</text>
<line x1="337.70" y1="633.90" x2="340.70" y2="633.90" stroke="#222" stroke-width="0.9"/>
<text x="334.80" y="636.25" font-size="6.6" text-anchor="end" fill="#262626" font-weight="normal" stroke="#262626" stroke-width="0.2" textLength="6.6" lengthAdjust="spacingAndGlyphs">70</text>
<line x1="337.70" y1="615.10" x2="340.70" y2="615.10" stroke="#222" stroke-width="0.9"/>
<text x="334.80" y="617.45" font-size="6.6" text-anchor="end" fill="#262626" font-weight="normal" stroke="#262626" stroke-width="0.2" textLength="9.9" lengthAdjust="spacingAndGlyphs">140</text>
<line x1="337.70" y1="596.30" x2="340.70" y2="596.30" stroke="#222" stroke-width="0.9"/>
<text x="334.80" y="598.65" font-size="6.6" text-anchor="end" fill="#262626" font-weight="normal" stroke="#262626" stroke-width="0.2" textLength="9.9" lengthAdjust="spacingAndGlyphs">210</text>
<line x1="337.70" y1="577.50" x2="340.70" y2="577.50" stroke="#222" stroke-width="0.9"/>
<text x="334.80" y="579.85" font-size="6.6" text-anchor="end" fill="#262626" font-weight="normal" stroke="#262626" stroke-width="0.2" textLength="9.9" lengthAdjust="spacingAndGlyphs">280</text>
<line x1="337.70" y1="558.70" x2="340.70" y2="558.70" stroke="#222" stroke-width="0.9"/>
<text x="334.80" y="561.05" font-size="6.6" text-anchor="end" fill="#262626" font-weight="normal" stroke="#262626" stroke-width="0.2" textLength="9.9" lengthAdjust="spacingAndGlyphs">350</text>
<path d="M348.90,631.53V629.33H361.10V631.53" fill="none" stroke="#111" stroke-width="1.0"/>
<circle cx="351.90" cy="626.73" r="1.0" fill="#2a2a2a"/>
<circle cx="355.00" cy="626.73" r="1.0" fill="#2a2a2a"/>
<circle cx="358.10" cy="626.73" r="1.0" fill="#2a2a2a"/>
<text transform="translate(319.00,604.40) rotate(-90)" x="0" y="0" font-size="7.4" text-anchor="middle" fill="#2e2e2e" stroke="#2e2e2e" stroke-width="0.1" textLength="61" lengthAdjust="spacingAndGlyphs">Anti-HOD IgG (MFI)</text>
<text x="338.80" y="662.50" font-size="6.1" text-anchor="end" fill="#333" font-weight="normal" stroke="#333" stroke-width="0.12" textLength="29.0" lengthAdjust="spacingAndGlyphs">anti-Duffy:</text>
<text x="348.90" y="662.30" font-size="5.9" text-anchor="middle" fill="#242424" font-weight="normal" stroke="#242424" stroke-width="0.24">–</text>
<text x="361.10" y="662.50" font-size="5.9" text-anchor="middle" fill="#242424" font-weight="normal" stroke="#242424" stroke-width="0.24">+</text>
<rect x="409.70" y="650.78" width="6.4" height="2.42" fill="#8d9cc8"/>
<rect x="421.90" y="614.53" width="6.4" height="38.67" fill="#8d9cc8"/>
<line x1="412.90" y1="649.44" x2="412.90" y2="652.13" stroke="#16427a" stroke-width="0.7"/>
<line x1="411.60" y1="649.44" x2="414.20" y2="649.44" stroke="#16427a" stroke-width="0.7"/>
<line x1="411.60" y1="652.13" x2="414.20" y2="652.13" stroke="#16427a" stroke-width="0.7"/>
<line x1="425.10" y1="594.38" x2="425.10" y2="634.67" stroke="#16427a" stroke-width="0.7"/>
<line x1="423.80" y1="594.38" x2="426.40" y2="594.38" stroke="#16427a" stroke-width="0.7"/>
<line x1="423.80" y1="634.67" x2="426.40" y2="634.67" stroke="#16427a" stroke-width="0.7"/>
<circle cx="412.90" cy="647.83" r="1.75" fill="#16427a" stroke="#0d2a50" stroke-width="0.35"/>
<circle cx="414.20" cy="649.98" r="1.75" fill="#16427a" stroke="#0d2a50" stroke-width="0.35"/>
<circle cx="411.70" cy="650.78" r="1.75" fill="#16427a" stroke="#0d2a50" stroke-width="0.35"/>
<circle cx="413.50" cy="651.05" r="1.75" fill="#16427a" stroke="#0d2a50" stroke-width="0.35"/>
<circle cx="412.20" cy="651.32" r="1.75" fill="#16427a" stroke="#0d2a50" stroke-width="0.35"/>
<circle cx="416.10" cy="651.59" r="1.75" fill="#16427a" stroke="#0d2a50" stroke-width="0.35"/>
<circle cx="411.40" cy="651.86" r="1.75" fill="#16427a" stroke="#0d2a50" stroke-width="0.35"/>
<circle cx="425.10" cy="590.35" r="1.75" fill="#16427a" stroke="#0d2a50" stroke-width="0.35"/>
<circle cx="426.40" cy="594.11" r="1.75" fill="#16427a" stroke="#0d2a50" stroke-width="0.35"/>
<circle cx="423.90" cy="594.92" r="1.75" fill="#16427a" stroke="#0d2a50" stroke-width="0.35"/>
<circle cx="425.70" cy="600.56" r="1.75" fill="#16427a" stroke="#0d2a50" stroke-width="0.35"/>
<circle cx="424.40" cy="608.08" r="1.75" fill="#16427a" stroke="#0d2a50" stroke-width="0.35"/>
<circle cx="426.70" cy="608.89" r="1.75" fill="#16427a" stroke="#0d2a50" stroke-width="0.35"/>
<circle cx="423.60" cy="620.97" r="1.75" fill="#16427a" stroke="#0d2a50" stroke-width="0.35"/>
<circle cx="425.40" cy="628.22" r="1.75" fill="#16427a" stroke="#0d2a50" stroke-width="0.35"/>
<circle cx="424.70" cy="637.09" r="1.75" fill="#16427a" stroke="#0d2a50" stroke-width="0.35"/>
<circle cx="426.10" cy="651.86" r="1.75" fill="#16427a" stroke="#0d2a50" stroke-width="0.35"/>
<line x1="404.70" y1="653.70" x2="404.70" y2="556.70" stroke="#161616" stroke-width="1.2"/>
<line x1="404.20" y1="653.20" x2="433.00" y2="653.20" stroke="#161616" stroke-width="1.2"/>
<line x1="412.90" y1="653.20" x2="412.90" y2="655.40" stroke="#222" stroke-width="0.8"/>
<line x1="425.10" y1="653.20" x2="425.10" y2="655.40" stroke="#222" stroke-width="0.8"/>
<line x1="401.70" y1="653.20" x2="404.70" y2="653.20" stroke="#222" stroke-width="0.9"/>
<text x="398.80" y="655.55" font-size="6.6" text-anchor="end" fill="#262626" font-weight="normal" stroke="#262626" stroke-width="0.2" textLength="3.3" lengthAdjust="spacingAndGlyphs">0</text>
<line x1="401.70" y1="634.40" x2="404.70" y2="634.40" stroke="#222" stroke-width="0.9"/>
<text x="398.80" y="636.75" font-size="6.6" text-anchor="end" fill="#262626" font-weight="normal" stroke="#262626" stroke-width="0.2" textLength="6.6" lengthAdjust="spacingAndGlyphs">70</text>
<line x1="401.70" y1="615.60" x2="404.70" y2="615.60" stroke="#222" stroke-width="0.9"/>
<text x="398.80" y="617.95" font-size="6.6" text-anchor="end" fill="#262626" font-weight="normal" stroke="#262626" stroke-width="0.2" textLength="9.9" lengthAdjust="spacingAndGlyphs">140</text>
<line x1="401.70" y1="596.80" x2="404.70" y2="596.80" stroke="#222" stroke-width="0.9"/>
<text x="398.80" y="599.15" font-size="6.6" text-anchor="end" fill="#262626" font-weight="normal" stroke="#262626" stroke-width="0.2" textLength="9.9" lengthAdjust="spacingAndGlyphs">210</text>
<line x1="401.70" y1="578.00" x2="404.70" y2="578.00" stroke="#222" stroke-width="0.9"/>
<text x="398.80" y="580.35" font-size="6.6" text-anchor="end" fill="#262626" font-weight="normal" stroke="#262626" stroke-width="0.2" textLength="9.9" lengthAdjust="spacingAndGlyphs">280</text>
<line x1="401.70" y1="559.20" x2="404.70" y2="559.20" stroke="#222" stroke-width="0.9"/>
<text x="398.80" y="561.55" font-size="6.6" text-anchor="end" fill="#262626" font-weight="normal" stroke="#262626" stroke-width="0.2" textLength="9.9" lengthAdjust="spacingAndGlyphs">350</text>
<path d="M412.90,574.02V571.82H425.10V574.02" fill="none" stroke="#111" stroke-width="1.0"/>
<circle cx="414.35" cy="569.22" r="1.0" fill="#2a2a2a"/>
<circle cx="417.45" cy="569.22" r="1.0" fill="#2a2a2a"/>
<circle cx="420.55" cy="569.22" r="1.0" fill="#2a2a2a"/>
<circle cx="423.65" cy="569.22" r="1.0" fill="#2a2a2a"/>
<text transform="translate(383.00,604.90) rotate(-90)" x="0" y="0" font-size="7.4" text-anchor="middle" fill="#2e2e2e" stroke="#2e2e2e" stroke-width="0.1" textLength="61" lengthAdjust="spacingAndGlyphs">Anti-HOD IgG (MFI)</text>
<text x="402.80" y="663.00" font-size="6.1" text-anchor="end" fill="#333" font-weight="normal" stroke="#333" stroke-width="0.12" textLength="29.0" lengthAdjust="spacingAndGlyphs">anti-Duffy:</text>
<text x="412.90" y="662.80" font-size="5.9" text-anchor="middle" fill="#242424" font-weight="normal" stroke="#242424" stroke-width="0.24">–</text>
<text x="425.10" y="663.00" font-size="5.9" text-anchor="middle" fill="#242424" font-weight="normal" stroke="#242424" stroke-width="0.24">+</text>
<rect x="474.60" y="646.12" width="6.4" height="6.98" fill="#e68e84"/>
<rect x="486.80" y="582.20" width="6.4" height="70.90" fill="#e68e84"/>
<line x1="477.80" y1="638.33" x2="477.80" y2="653.10" stroke="#c70f2e" stroke-width="0.7"/>
<line x1="476.50" y1="638.33" x2="479.10" y2="638.33" stroke="#c70f2e" stroke-width="0.7"/>
<line x1="490.00" y1="575.21" x2="490.00" y2="589.18" stroke="#c70f2e" stroke-width="0.7"/>
<line x1="488.70" y1="575.21" x2="491.30" y2="575.21" stroke="#c70f2e" stroke-width="0.7"/>
<line x1="488.70" y1="589.18" x2="491.30" y2="589.18" stroke="#c70f2e" stroke-width="0.7"/>
<circle cx="477.80" cy="633.23" r="1.75" fill="#c70f2e" stroke="#9a0a22" stroke-width="0.35"/>
<circle cx="479.10" cy="642.09" r="1.75" fill="#c70f2e" stroke="#9a0a22" stroke-width="0.35"/>
<circle cx="476.60" cy="647.19" r="1.75" fill="#c70f2e" stroke="#9a0a22" stroke-width="0.35"/>
<circle cx="479.80" cy="647.73" r="1.75" fill="#c70f2e" stroke="#9a0a22" stroke-width="0.35"/>
<circle cx="477.10" cy="648.27" r="1.75" fill="#c70f2e" stroke="#9a0a22" stroke-width="0.35"/>
<circle cx="474.60" cy="649.07" r="1.75" fill="#c70f2e" stroke="#9a0a22" stroke-width="0.35"/>
<circle cx="481.00" cy="649.88" r="1.75" fill="#c70f2e" stroke="#9a0a22" stroke-width="0.35"/>
<circle cx="478.10" cy="650.41" r="1.75" fill="#c70f2e" stroke="#9a0a22" stroke-width="0.35"/>
<circle cx="490.00" cy="575.21" r="1.75" fill="#c70f2e" stroke="#9a0a22" stroke-width="0.35"/>
<circle cx="491.30" cy="580.59" r="1.75" fill="#c70f2e" stroke="#9a0a22" stroke-width="0.35"/>
<circle cx="488.80" cy="581.12" r="1.75" fill="#c70f2e" stroke="#9a0a22" stroke-width="0.35"/>
<circle cx="490.60" cy="581.93" r="1.75" fill="#c70f2e" stroke="#9a0a22" stroke-width="0.35"/>
<circle cx="486.80" cy="582.73" r="1.75" fill="#c70f2e" stroke="#9a0a22" stroke-width="0.35"/>
<circle cx="493.00" cy="583.27" r="1.75" fill="#c70f2e" stroke="#9a0a22" stroke-width="0.35"/>
<circle cx="488.50" cy="583.81" r="1.75" fill="#c70f2e" stroke="#9a0a22" stroke-width="0.35"/>
<circle cx="490.30" cy="599.39" r="1.75" fill="#c70f2e" stroke="#9a0a22" stroke-width="0.35"/>
<line x1="469.60" y1="653.60" x2="469.60" y2="556.60" stroke="#161616" stroke-width="1.2"/>
<line x1="469.10" y1="653.10" x2="497.90" y2="653.10" stroke="#161616" stroke-width="1.2"/>
<line x1="477.80" y1="653.10" x2="477.80" y2="655.30" stroke="#222" stroke-width="0.8"/>
<line x1="490.00" y1="653.10" x2="490.00" y2="655.30" stroke="#222" stroke-width="0.8"/>
<line x1="466.60" y1="653.10" x2="469.60" y2="653.10" stroke="#222" stroke-width="0.9"/>
<text x="463.70" y="655.45" font-size="6.6" text-anchor="end" fill="#262626" font-weight="normal" stroke="#262626" stroke-width="0.2" textLength="3.3" lengthAdjust="spacingAndGlyphs">0</text>
<line x1="466.60" y1="634.30" x2="469.60" y2="634.30" stroke="#222" stroke-width="0.9"/>
<text x="463.70" y="636.65" font-size="6.6" text-anchor="end" fill="#262626" font-weight="normal" stroke="#262626" stroke-width="0.2" textLength="6.6" lengthAdjust="spacingAndGlyphs">70</text>
<line x1="466.60" y1="615.50" x2="469.60" y2="615.50" stroke="#222" stroke-width="0.9"/>
<text x="463.70" y="617.85" font-size="6.6" text-anchor="end" fill="#262626" font-weight="normal" stroke="#262626" stroke-width="0.2" textLength="9.9" lengthAdjust="spacingAndGlyphs">140</text>
<line x1="466.60" y1="596.70" x2="469.60" y2="596.70" stroke="#222" stroke-width="0.9"/>
<text x="463.70" y="599.05" font-size="6.6" text-anchor="end" fill="#262626" font-weight="normal" stroke="#262626" stroke-width="0.2" textLength="9.9" lengthAdjust="spacingAndGlyphs">210</text>
<line x1="466.60" y1="577.90" x2="469.60" y2="577.90" stroke="#222" stroke-width="0.9"/>
<text x="463.70" y="580.25" font-size="6.6" text-anchor="end" fill="#262626" font-weight="normal" stroke="#262626" stroke-width="0.2" textLength="9.9" lengthAdjust="spacingAndGlyphs">280</text>
<line x1="466.60" y1="559.10" x2="469.60" y2="559.10" stroke="#222" stroke-width="0.9"/>
<text x="463.70" y="561.45" font-size="6.6" text-anchor="end" fill="#262626" font-weight="normal" stroke="#262626" stroke-width="0.2" textLength="9.9" lengthAdjust="spacingAndGlyphs">350</text>
<path d="M477.80,569.36V567.16H490.00V569.36" fill="none" stroke="#111" stroke-width="1.0"/>
<circle cx="479.25" cy="564.56" r="1.0" fill="#2a2a2a"/>
<circle cx="482.35" cy="564.56" r="1.0" fill="#2a2a2a"/>
<circle cx="485.45" cy="564.56" r="1.0" fill="#2a2a2a"/>
<circle cx="488.55" cy="564.56" r="1.0" fill="#2a2a2a"/>
<text transform="translate(447.90,604.80) rotate(-90)" x="0" y="0" font-size="7.4" text-anchor="middle" fill="#2e2e2e" stroke="#2e2e2e" stroke-width="0.1" textLength="61" lengthAdjust="spacingAndGlyphs">Anti-HOD IgG (MFI)</text>
<text x="467.70" y="662.90" font-size="6.1" text-anchor="end" fill="#333" font-weight="normal" stroke="#333" stroke-width="0.12" textLength="29.0" lengthAdjust="spacingAndGlyphs">anti-Duffy:</text>
<text x="477.80" y="662.70" font-size="5.9" text-anchor="middle" fill="#242424" font-weight="normal" stroke="#242424" stroke-width="0.24">–</text>
<text x="490.00" y="662.90" font-size="5.9" text-anchor="middle" fill="#242424" font-weight="normal" stroke="#242424" stroke-width="0.24">+</text>
<text x="7.00" y="16.70" font-size="11.4" text-anchor="start" fill="#111" font-weight="bold" stroke="#111" stroke-width="0.1">A</text>
<g transform="translate(14.50,44.50)"><rect x="0" y="0" width="54.7" height="42.6" fill="#fff" stroke="#74b4c6" stroke-width="1.05"/><rect x="5.5" y="29.9" width="43.7" height="6.2" fill="#858585"/><line x1="6" y1="33" x2="49" y2="33" stroke="#b9b9b9" stroke-width="0.6" stroke-dasharray="1,0.8"/><path d="M16.0,19 V38.6 A2.0,2.0 0 0 0 20.0,38.6 V24.3 A2.0,2.0 0 0 1 24.0,24.3 V38.6 A2.0,2.0 0 0 0 28.0,38.6 V24.3 A2.0,2.0 0 0 1 32.0,24.3 V38.6 A2.0,2.0 0 0 0 36.0,38.6 V24.3 A2.0,2.0 0 0 1 40.0,24.3 V39.4" fill="none" stroke="#b5224b" stroke-width="0.9"/><circle cx="8.5" cy="10.0" r="4.4" fill="#e8a2d2"/><text x="8.5" y="11.2" font-size="3.2" text-anchor="middle" fill="#8a2a5a">HEL</text><circle cx="16.6" cy="15.4" r="4.8" fill="#f39a12"/><text x="16.6" y="16.6" font-size="3.2" text-anchor="middle" fill="#6a3000">OVA</text><text x="37.2" y="10.0" font-size="3.6" fill="#333" textLength="10" lengthAdjust="spacingAndGlyphs">Duffy</text><line x1="42.3" y1="12.2" x2="40.6" y2="16.5" stroke="#222" stroke-width="0.5"/><path d="M38.8,15.6 L42.3,17.0 L39.5,20.4 Z" fill="#111"/></g>
<g transform="translate(116.30,41.30)"><rect x="0" y="0" width="55.3" height="43.1" fill="#fff" stroke="#74b4c6" stroke-width="1.05"/><rect x="5.5" y="29.9" width="43.7" height="6.2" fill="#858585"/><line x1="6" y1="33" x2="49" y2="33" stroke="#b9b9b9" stroke-width="0.6" stroke-dasharray="1,0.8"/><path d="M16.0,19 V38.6 A2.0,2.0 0 0 0 20.0,38.6 V24.3 A2.0,2.0 0 0 1 24.0,24.3 V38.6 A2.0,2.0 0 0 0 28.0,38.6 V24.3 A2.0,2.0 0 0 1 32.0,24.3 V38.6 A2.0,2.0 0 0 0 36.0,38.6 V24.3 A2.0,2.0 0 0 1 40.0,24.3 V39.4" fill="none" stroke="#b5224b" stroke-width="0.9"/><circle cx="8.5" cy="10.0" r="4.4" fill="#e8a2d2"/><text x="8.5" y="11.2" font-size="3.2" text-anchor="middle" fill="#8a2a5a">HEL</text><circle cx="16.6" cy="15.4" r="4.8" fill="#f39a12"/><text x="16.6" y="16.6" font-size="3.2" text-anchor="middle" fill="#6a3000">OVA</text><text x="37.2" y="10.0" font-size="3.6" fill="#333" textLength="10" lengthAdjust="spacingAndGlyphs">Duffy</text><line x1="42.3" y1="12.2" x2="40.6" y2="16.5" stroke="#222" stroke-width="0.5"/><path d="M38.8,15.6 L42.3,17.0 L39.5,20.4 Z" fill="#111"/></g>
<g transform="translate(215.10,42.80)"><rect x="0" y="0" width="54.5" height="42.6" fill="#fff" stroke="#74b4c6" stroke-width="1.05"/><rect x="5.5" y="29.9" width="43.7" height="6.2" fill="#858585"/><line x1="6" y1="33" x2="49" y2="33" stroke="#b9b9b9" stroke-width="0.6" stroke-dasharray="1,0.8"/><path d="M16.0,19 V38.6 A2.0,2.0 0 0 0 20.0,38.6 V24.3 A2.0,2.0 0 0 1 24.0,24.3 V38.6 A2.0,2.0 0 0 0 28.0,38.6 V24.3 A2.0,2.0 0 0 1 32.0,24.3 V38.6 A2.0,2.0 0 0 0 36.0,38.6 V24.3 A2.0,2.0 0 0 1 40.0,24.3 V39.4" fill="none" stroke="#b5224b" stroke-width="0.9"/><circle cx="8.5" cy="10.0" r="4.4" fill="#e8a2d2"/><text x="8.5" y="11.2" font-size="3.2" text-anchor="middle" fill="#8a2a5a">HEL</text><circle cx="16.6" cy="15.4" r="4.8" fill="#f39a12"/><text x="16.6" y="16.6" font-size="3.2" text-anchor="middle" fill="#6a3000">OVA</text><text x="37.2" y="10.0" font-size="3.6" fill="#333" textLength="10" lengthAdjust="spacingAndGlyphs">Duffy</text><line x1="42.3" y1="12.2" x2="40.6" y2="16.5" stroke="#222" stroke-width="0.5"/><path d="M38.8,15.6 L42.3,17.0 L39.5,20.4 Z" fill="#111"/></g>
<line x1="14.50" y1="87.10" x2="35.10" y2="106.20" stroke="#467c8e" stroke-width="1.0"/>
<line x1="69.20" y1="87.10" x2="46.90" y2="105.80" stroke="#467c8e" stroke-width="1.0"/>
<line x1="116.30" y1="84.40" x2="137.10" y2="103.70" stroke="#467c8e" stroke-width="1.0"/>
<line x1="171.60" y1="84.40" x2="147.80" y2="103.40" stroke="#467c8e" stroke-width="1.0"/>
<line x1="215.10" y1="85.40" x2="235.40" y2="104.50" stroke="#467c8e" stroke-width="1.0"/>
<line x1="269.60" y1="85.40" x2="247.30" y2="104.50" stroke="#467c8e" stroke-width="1.0"/>
<g transform="translate(41.50,109.70) rotate(15)"><ellipse cx="0" cy="0" rx="4.7" ry="3.0" fill="#c8000a"/><ellipse cx="0" cy="0" rx="2.59" ry="1.35" fill="#e0202a"/></g>
<g transform="translate(143.00,107.00) rotate(15)"><ellipse cx="0" cy="0" rx="4.7" ry="3.0" fill="#c8000a"/><ellipse cx="0" cy="0" rx="2.59" ry="1.35" fill="#e0202a"/></g>
<g transform="translate(143.50,118.90) rotate(15)"><ellipse cx="0" cy="0" rx="4.7" ry="3.0" fill="#c8000a"/><ellipse cx="0" cy="0" rx="2.59" ry="1.35" fill="#e0202a"/></g>
<g transform="translate(153.70,115.50) rotate(15)"><ellipse cx="0" cy="0" rx="4.7" ry="3.0" fill="#c8000a"/><ellipse cx="0" cy="0" rx="2.59" ry="1.35" fill="#e0202a"/></g>
<g transform="translate(241.50,108.40) rotate(15)"><ellipse cx="0" cy="0" rx="4.7" ry="3.0" fill="#c8000a"/><ellipse cx="0" cy="0" rx="2.59" ry="1.35" fill="#e0202a"/></g>
<g transform="translate(261.90,111.70) rotate(15)"><ellipse cx="0" cy="0" rx="4.7" ry="3.0" fill="#c8000a"/><ellipse cx="0" cy="0" rx="2.59" ry="1.35" fill="#e0202a"/></g>
<g transform="translate(252.50,116.80) rotate(15)"><ellipse cx="0" cy="0" rx="4.7" ry="3.0" fill="#c8000a"/><ellipse cx="0" cy="0" rx="2.59" ry="1.35" fill="#e0202a"/></g>
<g transform="translate(242.20,119.90) rotate(15)"><ellipse cx="0" cy="0" rx="4.7" ry="3.0" fill="#c8000a"/><ellipse cx="0" cy="0" rx="2.59" ry="1.35" fill="#e0202a"/></g>
<g transform="translate(262.90,121.50) rotate(15)"><ellipse cx="0" cy="0" rx="4.7" ry="3.0" fill="#c8000a"/><ellipse cx="0" cy="0" rx="2.59" ry="1.35" fill="#e0202a"/></g>
<text x="11.60" y="133.70" font-size="6.4" text-anchor="start" fill="#303030" font-weight="normal" stroke="#303030" stroke-width="0.11" textLength="66.4" lengthAdjust="spacingAndGlyphs">Low-dose HOD+ RBCs</text>
<text x="110.00" y="133.20" font-size="6.4" text-anchor="start" fill="#303030" font-weight="normal" stroke="#303030" stroke-width="0.11" textLength="78.7" lengthAdjust="spacingAndGlyphs">Medium-dose HOD+ RBCs</text>
<text x="219.00" y="133.20" font-size="6.4" text-anchor="start" fill="#303030" font-weight="normal" stroke="#303030" stroke-width="0.11" textLength="69.2" lengthAdjust="spacingAndGlyphs">High-dose HOD+ RBCs</text>
<line x1="44.70" y1="141.00" x2="44.70" y2="171.00" stroke="#333" stroke-width="1.0"/>
<path d="M42.20,169.20 L44.70,170.50 L47.20,169.20 L44.70,174.50 Z" fill="#222"/>
<line x1="146.40" y1="141.00" x2="146.40" y2="171.10" stroke="#333" stroke-width="1.0"/>
<path d="M143.90,169.30 L146.40,170.60 L148.90,169.30 L146.40,174.60 Z" fill="#222"/>
<line x1="251.70" y1="141.00" x2="251.70" y2="171.10" stroke="#333" stroke-width="1.0"/>
<path d="M249.20,169.30 L251.70,170.60 L254.20,169.30 L251.70,174.60 Z" fill="#222"/>
<g transform="translate(49.50,198.00)"><line x1="-35.5" y1="-28.5" x2="-25.5" y2="-20" stroke="#c8c8c8" stroke-width="2.2"/><line x1="-36.5" y1="-29.5" x2="-34" y2="-27.5" stroke="#9a9a9a" stroke-width="2.6"/><line x1="-25" y1="-19.4" x2="-18.5" y2="-14.3" stroke="#ae0c16" stroke-width="2.6"/><line x1="-18" y1="-14.5" x2="-14" y2="-11.5" stroke="#999" stroke-width="0.6"/><path d="M0.5,-9.5 C-0.5,-13.5 -4.5,-14.5 -7.5,-12.5 C-10.5,-10.5 -12.5,-8.3 -16.5,-8.6" fill="none" stroke="#111" stroke-width="1.0"/><path d="M0,-10.2 C6,-10.2 9.3,-6 9.3,-0.5 C9.3,4 6,8 3,10.5 L0,11.3 L-3,10.5 C-6,8 -9.3,4 -9.3,-0.5 C-9.3,-6 -6,-10.2 0,-10.2 Z" fill="#141414"/><ellipse cx="-5.9" cy="1.3" rx="3.7" ry="3.0" fill="#f0d3ad" stroke="#141414" stroke-width="0.5"/><ellipse cx="5.9" cy="1.3" rx="3.7" ry="3.0" fill="#f0d3ad" stroke="#141414" stroke-width="0.5"/><ellipse cx="-5.2" cy="1.7" rx="1.9" ry="1.5" fill="#dcb088"/><ellipse cx="5.2" cy="1.7" rx="1.9" ry="1.5" fill="#dcb088"/><circle cx="-2" cy="5.6" r="0.6" fill="#ddd"/><circle cx="2" cy="5.6" r="0.6" fill="#ddd"/><circle cx="0" cy="10.3" r="0.7" fill="#e7b7a7"/><path d="M-3,8.5 L-7.5,7.5 M-3,9 L-7.5,9.5 M-3,9.5 L-6.5,11 M3,8.5 L7.5,7.5 M3,9 L7.5,9.5 M3,9.5 L6.5,11" stroke="#aaa" stroke-width="0.35"/></g>
<g transform="translate(147.40,197.50)"><line x1="-35.5" y1="-28.5" x2="-25.5" y2="-20" stroke="#c8c8c8" stroke-width="2.2"/><line x1="-36.5" y1="-29.5" x2="-34" y2="-27.5" stroke="#9a9a9a" stroke-width="2.6"/><line x1="-25" y1="-19.4" x2="-18.5" y2="-14.3" stroke="#ae0c16" stroke-width="2.6"/><line x1="-18" y1="-14.5" x2="-14" y2="-11.5" stroke="#999" stroke-width="0.6"/><path d="M0.5,-9.5 C-0.5,-13.5 -4.5,-14.5 -7.5,-12.5 C-10.5,-10.5 -12.5,-8.3 -16.5,-8.6" fill="none" stroke="#111" stroke-width="1.0"/><path d="M0,-10.2 C6,-10.2 9.3,-6 9.3,-0.5 C9.3,4 6,8 3,10.5 L0,11.3 L-3,10.5 C-6,8 -9.3,4 -9.3,-0.5 C-9.3,-6 -6,-10.2 0,-10.2 Z" fill="#141414"/><ellipse cx="-5.9" cy="1.3" rx="3.7" ry="3.0" fill="#f0d3ad" stroke="#141414" stroke-width="0.5"/><ellipse cx="5.9" cy="1.3" rx="3.7" ry="3.0" fill="#f0d3ad" stroke="#141414" stroke-width="0.5"/><ellipse cx="-5.2" cy="1.7" rx="1.9" ry="1.5" fill="#dcb088"/><ellipse cx="5.2" cy="1.7" rx="1.9" ry="1.5" fill="#dcb088"/><circle cx="-2" cy="5.6" r="0.6" fill="#ddd"/><circle cx="2" cy="5.6" r="0.6" fill="#ddd"/><circle cx="0" cy="10.3" r="0.7" fill="#e7b7a7"/><path d="M-3,8.5 L-7.5,7.5 M-3,9 L-7.5,9.5 M-3,9.5 L-6.5,11 M3,8.5 L7.5,7.5 M3,9 L7.5,9.5 M3,9.5 L6.5,11" stroke="#aaa" stroke-width="0.35"/></g>
<g transform="translate(253.00,198.00)"><line x1="-35.5" y1="-28.5" x2="-25.5" y2="-20" stroke="#c8c8c8" stroke-width="2.2"/><line x1="-36.5" y1="-29.5" x2="-34" y2="-27.5" stroke="#9a9a9a" stroke-width="2.6"/><line x1="-25" y1="-19.4" x2="-18.5" y2="-14.3" stroke="#ae0c16" stroke-width="2.6"/><line x1="-18" y1="-14.5" x2="-14" y2="-11.5" stroke="#999" stroke-width="0.6"/><path d="M0.5,-9.5 C-0.5,-13.5 -4.5,-14.5 -7.5,-12.5 C-10.5,-10.5 -12.5,-8.3 -16.5,-8.6" fill="none" stroke="#111" stroke-width="1.0"/><path d="M0,-10.2 C6,-10.2 9.3,-6 9.3,-0.5 C9.3,4 6,8 3,10.5 L0,11.3 L-3,10.5 C-6,8 -9.3,4 -9.3,-0.5 C-9.3,-6 -6,-10.2 0,-10.2 Z" fill="#141414"/><ellipse cx="-5.9" cy="1.3" rx="3.7" ry="3.0" fill="#f0d3ad" stroke="#141414" stroke-width="0.5"/><ellipse cx="5.9" cy="1.3" rx="3.7" ry="3.0" fill="#f0d3ad" stroke="#141414" stroke-width="0.5"/><ellipse cx="-5.2" cy="1.7" rx="1.9" ry="1.5" fill="#dcb088"/><ellipse cx="5.2" cy="1.7" rx="1.9" ry="1.5" fill="#dcb088"/><circle cx="-2" cy="5.6" r="0.6" fill="#ddd"/><circle cx="2" cy="5.6" r="0.6" fill="#ddd"/><circle cx="0" cy="10.3" r="0.7" fill="#e7b7a7"/><path d="M-3,8.5 L-7.5,7.5 M-3,9 L-7.5,9.5 M-3,9.5 L-6.5,11 M3,8.5 L7.5,7.5 M3,9 L7.5,9.5 M3,9.5 L6.5,11" stroke="#aaa" stroke-width="0.35"/></g>
<text x="23.10" y="221.90" font-size="6.4" text-anchor="start" fill="#303030" font-weight="normal" stroke="#303030" stroke-width="0.11" textLength="50.6" lengthAdjust="spacingAndGlyphs">PBS or anti-Duffy</text>
<text x="19.30" y="229.60" font-size="6.4" text-anchor="start" fill="#303030" font-weight="normal" stroke="#303030" stroke-width="0.11" textLength="57.7" lengthAdjust="spacingAndGlyphs">immunized B6 mice</text>
<text x="125.10" y="221.70" font-size="6.4" text-anchor="start" fill="#303030" font-weight="normal" stroke="#303030" stroke-width="0.11" textLength="51.3" lengthAdjust="spacingAndGlyphs">PBS or anti-Duffy</text>
<text x="121.70" y="229.60" font-size="6.4" text-anchor="start" fill="#303030" font-weight="normal" stroke="#303030" stroke-width="0.11" textLength="57.2" lengthAdjust="spacingAndGlyphs">immunized B6 mice</text>
<text x="226.00" y="221.70" font-size="6.4" text-anchor="start" fill="#303030" font-weight="normal" stroke="#303030" stroke-width="0.11" textLength="50.2" lengthAdjust="spacingAndGlyphs">PBS or anti-Duffy</text>
<text x="222.70" y="229.60" font-size="6.4" text-anchor="start" fill="#303030" font-weight="normal" stroke="#303030" stroke-width="0.11" textLength="57.8" lengthAdjust="spacingAndGlyphs">immunized B6 mice</text>
<line x1="66.70" y1="240.40" x2="129.35" y2="272.96" stroke="#333" stroke-width="1.0"/>
<path d="M127.04,274.57 L129.35,272.96 L129.35,270.14 L132.90,274.80 Z" fill="#222"/>
<line x1="147.20" y1="237.30" x2="147.20" y2="266.20" stroke="#333" stroke-width="1.0"/>
<path d="M144.70,264.90 L147.20,266.20 L149.70,264.90 L147.20,270.20 Z" fill="#222"/>
<line x1="229.40" y1="240.40" x2="165.76" y2="272.98" stroke="#333" stroke-width="1.0"/>
<path d="M165.78,270.16 L165.76,272.98 L168.06,274.61 L162.20,274.80 Z" fill="#222"/>
<rect x="116.9" y="282.4" width="61.9" height="18.8" fill="none" stroke="#333" stroke-width="0.9"/>
<text x="121.50" y="291.20" font-size="6.4" text-anchor="start" fill="#303030" font-weight="normal" stroke="#303030" stroke-width="0.11" textLength="52.3" lengthAdjust="spacingAndGlyphs">anti-HEL IgM, IgG</text>
<text x="120.00" y="298.10" font-size="6.4" text-anchor="start" fill="#303030" font-weight="normal" stroke="#303030" stroke-width="0.11" textLength="55.4" lengthAdjust="spacingAndGlyphs">D3, 5, 7, 14, 21, 28</text>
<rect x="0.65" y="0.5" width="518.7" height="670.8" fill="none" stroke="#505050" stroke-width="1.3"/>
</svg>
</body></html>
